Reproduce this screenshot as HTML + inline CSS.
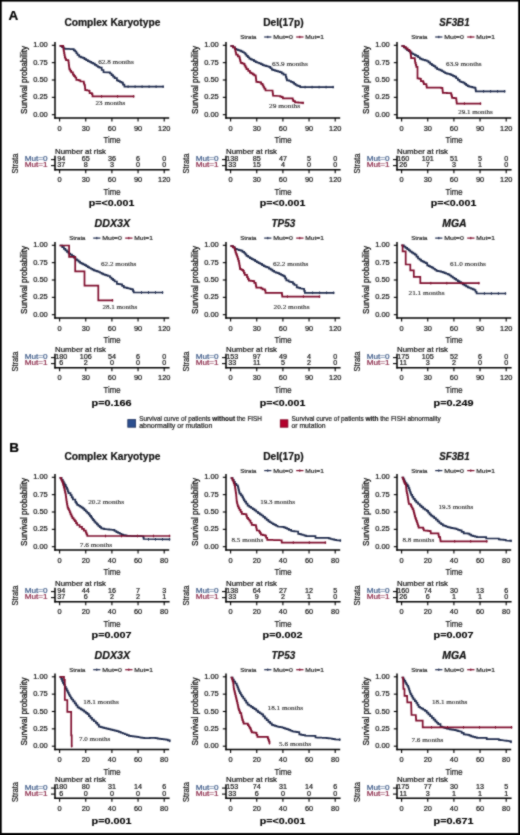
<!DOCTYPE html>
<html><head><meta charset="utf-8"><style>html,body{margin:0;padding:0;background:#fff;}svg{display:block;} #w{will-change:transform;width:520px;height:835px;}</style></head>
<body><div id="w"><svg width="520" height="835" viewBox="0 0 520 835"><defs><filter id="bl" x="0" y="0" width="1" height="1" color-interpolation-filters="sRGB"><feConvolveMatrix order="3" kernelMatrix="1 2 1 2 12 2 1 2 1" divisor="24" edgeMode="duplicate"/></filter></defs><g filter="url(#bl)">
<rect x="0" y="0" width="520" height="835" fill="#fff"/>
<text x="112.40" y="26.20" font-size="10" font-family="Liberation Sans, sans-serif" fill="#111" stroke="#111" stroke-width="0.2" text-anchor="middle" font-weight="bold" textLength="96" lengthAdjust="spacingAndGlyphs">Complex Karyotype</text>
<text transform="translate(26.80,80.00) rotate(-90)" font-size="9.6" font-family="Liberation Sans, sans-serif" fill="#111" stroke="#111" stroke-width="0.3" text-anchor="middle" textLength="68" lengthAdjust="spacingAndGlyphs">Survival probability</text>
<text x="47.80" y="47.30" font-size="7.6" font-family="Liberation Sans, sans-serif" fill="#111" stroke="#111" stroke-width="0.2" text-anchor="end" textLength="14.6" lengthAdjust="spacingAndGlyphs">1.00</text>
<line x1="51.80" y1="45.30" x2="55.20" y2="45.30" stroke="#000" stroke-width="1.1"/>
<text x="47.80" y="64.65" font-size="7.6" font-family="Liberation Sans, sans-serif" fill="#111" stroke="#111" stroke-width="0.2" text-anchor="end" textLength="14.6" lengthAdjust="spacingAndGlyphs">0.75</text>
<line x1="51.80" y1="62.65" x2="55.20" y2="62.65" stroke="#000" stroke-width="1.1"/>
<text x="47.80" y="82.00" font-size="7.6" font-family="Liberation Sans, sans-serif" fill="#111" stroke="#111" stroke-width="0.2" text-anchor="end" textLength="14.6" lengthAdjust="spacingAndGlyphs">0.50</text>
<line x1="51.80" y1="80.00" x2="55.20" y2="80.00" stroke="#000" stroke-width="1.1"/>
<text x="47.80" y="99.35" font-size="7.6" font-family="Liberation Sans, sans-serif" fill="#111" stroke="#111" stroke-width="0.2" text-anchor="end" textLength="14.6" lengthAdjust="spacingAndGlyphs">0.25</text>
<line x1="51.80" y1="97.35" x2="55.20" y2="97.35" stroke="#000" stroke-width="1.1"/>
<text x="47.80" y="116.70" font-size="7.6" font-family="Liberation Sans, sans-serif" fill="#111" stroke="#111" stroke-width="0.2" text-anchor="end" textLength="14.6" lengthAdjust="spacingAndGlyphs">0.00</text>
<line x1="51.80" y1="114.70" x2="55.20" y2="114.70" stroke="#000" stroke-width="1.1"/>
<line x1="55.00" y1="42.00" x2="55.00" y2="118.70" stroke="#000" stroke-width="1.5"/>
<line x1="54.30" y1="118.00" x2="169.20" y2="118.00" stroke="#000" stroke-width="1.5"/>
<line x1="59.60" y1="118.00" x2="59.60" y2="121.60" stroke="#000" stroke-width="1.1"/>
<text x="59.60" y="130.90" font-size="7.4" font-family="Liberation Sans, sans-serif" fill="#111" stroke="#111" stroke-width="0.2" text-anchor="middle">0</text>
<line x1="85.75" y1="118.00" x2="85.75" y2="121.60" stroke="#000" stroke-width="1.1"/>
<text x="85.75" y="130.90" font-size="7.4" font-family="Liberation Sans, sans-serif" fill="#111" stroke="#111" stroke-width="0.2" text-anchor="middle">30</text>
<line x1="111.90" y1="118.00" x2="111.90" y2="121.60" stroke="#000" stroke-width="1.1"/>
<text x="111.90" y="130.90" font-size="7.4" font-family="Liberation Sans, sans-serif" fill="#111" stroke="#111" stroke-width="0.2" text-anchor="middle">60</text>
<line x1="138.05" y1="118.00" x2="138.05" y2="121.60" stroke="#000" stroke-width="1.1"/>
<text x="138.05" y="130.90" font-size="7.4" font-family="Liberation Sans, sans-serif" fill="#111" stroke="#111" stroke-width="0.2" text-anchor="middle">90</text>
<line x1="164.20" y1="118.00" x2="164.20" y2="121.60" stroke="#000" stroke-width="1.1"/>
<text x="164.20" y="130.90" font-size="7.4" font-family="Liberation Sans, sans-serif" fill="#111" stroke="#111" stroke-width="0.2" text-anchor="middle">120</text>
<text x="112.00" y="143.10" font-size="9.9" font-family="Liberation Sans, sans-serif" fill="#111" stroke="#111" stroke-width="0.2" text-anchor="middle" textLength="17" lengthAdjust="spacingAndGlyphs">Time</text>
<polyline points="60.50,45.80 62.10,45.80 62.10,47.25 63.70,47.25 63.70,48.70 65.42,48.70 65.42,48.80 67.14,48.80 67.14,48.90 68.86,48.90 68.86,49.00 70.58,49.00 70.58,49.10 72.30,49.10 72.30,49.20 73.75,49.20 73.75,50.35 75.20,50.35 75.20,51.50 76.35,51.50 76.35,53.25 77.50,53.25 77.50,55.00 79.20,55.00 79.20,56.70 80.95,56.70 80.95,57.30 82.70,57.30 82.70,57.90 84.45,57.90 84.45,59.05 86.20,59.05 86.20,60.20 87.90,60.20 87.90,61.05 89.60,61.05 89.60,61.90 91.35,61.90 91.35,62.80 93.10,62.80 93.10,63.70 94.80,63.70 94.80,64.85 96.50,64.85 96.50,66.00 97.95,66.00 97.95,66.85 99.40,66.85 99.40,67.70 101.70,67.70 101.70,70.00 103.50,70.00 103.50,72.10 108.10,72.30 110.00,72.30 110.00,73.50 111.53,73.50 111.53,75.03 113.07,75.03 113.07,76.57 114.60,76.57 114.60,78.10 116.90,78.10 116.90,80.40 118.43,80.40 118.43,81.17 119.97,81.17 119.97,81.93 121.50,81.93 121.50,82.70 122.95,82.70 122.95,84.70 124.40,84.70 124.40,86.70 163.10,86.70" fill="none" stroke="#1f2b4d" stroke-width="1.7" stroke-linejoin="miter" stroke-linecap="square"/>
<line x1="163.10" y1="85.40" x2="163.10" y2="88.00" stroke="#1f2b4d" stroke-width="1.0"/>
<line x1="156.10" y1="85.40" x2="156.10" y2="88.00" stroke="#1f2b4d" stroke-width="1.0"/>
<line x1="149.10" y1="85.40" x2="149.10" y2="88.00" stroke="#1f2b4d" stroke-width="1.0"/>
<line x1="142.10" y1="85.40" x2="142.10" y2="88.00" stroke="#1f2b4d" stroke-width="1.0"/>
<line x1="135.10" y1="85.40" x2="135.10" y2="88.00" stroke="#1f2b4d" stroke-width="1.0"/>
<line x1="128.10" y1="85.40" x2="128.10" y2="88.00" stroke="#1f2b4d" stroke-width="1.0"/>
<polyline points="60.50,45.80 63.10,45.80 63.10,46.30 63.30,46.30 63.30,47.87 63.50,47.87 63.50,49.43 63.70,49.43 63.70,51.00 64.07,51.00 64.07,53.10 64.43,53.10 64.43,55.20 64.80,55.20 64.80,57.30 65.40,57.30 65.40,58.75 66.00,58.75 66.00,60.20 68.30,60.20 68.30,60.80 68.55,60.80 68.55,62.80 68.80,62.80 68.80,64.80 69.00,64.80 69.00,66.33 69.20,66.33 69.20,67.87 69.40,67.87 69.40,69.40 70.30,69.40 70.30,70.85 71.20,70.85 71.20,72.30 72.90,72.30 72.90,74.60 74.05,74.60 74.05,76.05 75.20,76.05 75.20,77.50 76.30,77.50 76.30,79.80 78.70,79.80 78.70,80.40 80.40,80.40 80.40,81.50 83.30,81.50 83.80,81.50 83.80,83.30 84.30,83.30 84.30,84.75 84.80,84.75 84.80,86.20 85.00,86.20 85.00,88.20 85.20,88.20 85.20,90.20 87.10,90.20 87.10,90.50 89.00,90.50 89.00,90.80 89.60,90.80 89.60,93.10 91.90,93.10 91.90,94.20 92.50,94.20 92.50,96.40 133.60,96.40" fill="none" stroke="#7e0d2c" stroke-width="1.7" stroke-linejoin="miter" stroke-linecap="square"/>
<line x1="133.60" y1="95.10" x2="133.60" y2="97.70" stroke="#7e0d2c" stroke-width="1.0"/>
<line x1="117.60" y1="95.10" x2="117.60" y2="97.70" stroke="#7e0d2c" stroke-width="1.0"/>
<line x1="101.60" y1="95.10" x2="101.60" y2="97.70" stroke="#7e0d2c" stroke-width="1.0"/>
<text x="98.20" y="63.50" font-size="6.8" font-family="Liberation Serif, serif" fill="#2a2a2a" stroke="#2a2a2a" stroke-width="0.12" textLength="35.5" lengthAdjust="spacingAndGlyphs">62.8 months</text>
<text x="95.60" y="105.40" font-size="6.8" font-family="Liberation Serif, serif" fill="#2a2a2a" stroke="#2a2a2a" stroke-width="0.12" textLength="29.6" lengthAdjust="spacingAndGlyphs">23 months</text>
<text x="55.00" y="153.70" font-size="7.2" font-family="Liberation Sans, sans-serif" fill="#111" stroke="#111" stroke-width="0.2" textLength="51" lengthAdjust="spacingAndGlyphs">Number at risk</text>
<text transform="translate(18.10,163.60) rotate(-90)" font-size="9.9" font-family="Liberation Sans, sans-serif" fill="#111" stroke="#111" stroke-width="0.2" text-anchor="middle" textLength="20" lengthAdjust="spacingAndGlyphs">Strata</text>
<text x="47.60" y="161.00" font-size="6.8" font-family="Liberation Sans, sans-serif" fill="#3d5a88" stroke="#3d5a88" stroke-width="0.2" text-anchor="end" textLength="22.8" lengthAdjust="spacingAndGlyphs">Mut=0</text>
<text x="47.60" y="167.40" font-size="6.8" font-family="Liberation Sans, sans-serif" fill="#8a2848" stroke="#8a2848" stroke-width="0.2" text-anchor="end" textLength="22.8" lengthAdjust="spacingAndGlyphs">Mut=1</text>
<line x1="51.00" y1="159.60" x2="55.00" y2="159.60" stroke="#000" stroke-width="1.1"/>
<line x1="51.00" y1="165.60" x2="55.00" y2="165.60" stroke="#000" stroke-width="1.1"/>
<line x1="55.00" y1="155.80" x2="55.00" y2="170.40" stroke="#000" stroke-width="1.5"/>
<line x1="54.30" y1="169.70" x2="169.60" y2="169.70" stroke="#000" stroke-width="1.5"/>
<line x1="59.60" y1="169.70" x2="59.60" y2="173.20" stroke="#000" stroke-width="1.1"/>
<text x="59.60" y="182.30" font-size="7.4" font-family="Liberation Sans, sans-serif" fill="#111" stroke="#111" stroke-width="0.2" text-anchor="middle">0</text>
<text x="61.20" y="160.70" font-size="7.2" font-family="Liberation Sans, sans-serif" fill="#111" stroke="#111" stroke-width="0.2" text-anchor="middle">94</text>
<text x="61.20" y="167.10" font-size="7.2" font-family="Liberation Sans, sans-serif" fill="#111" stroke="#111" stroke-width="0.2" text-anchor="middle">37</text>
<line x1="85.75" y1="169.70" x2="85.75" y2="173.20" stroke="#000" stroke-width="1.1"/>
<text x="85.75" y="182.30" font-size="7.4" font-family="Liberation Sans, sans-serif" fill="#111" stroke="#111" stroke-width="0.2" text-anchor="middle">30</text>
<text x="85.75" y="160.70" font-size="7.2" font-family="Liberation Sans, sans-serif" fill="#111" stroke="#111" stroke-width="0.2" text-anchor="middle">65</text>
<text x="85.75" y="167.10" font-size="7.2" font-family="Liberation Sans, sans-serif" fill="#111" stroke="#111" stroke-width="0.2" text-anchor="middle">8</text>
<line x1="111.90" y1="169.70" x2="111.90" y2="173.20" stroke="#000" stroke-width="1.1"/>
<text x="111.90" y="182.30" font-size="7.4" font-family="Liberation Sans, sans-serif" fill="#111" stroke="#111" stroke-width="0.2" text-anchor="middle">60</text>
<text x="111.90" y="160.70" font-size="7.2" font-family="Liberation Sans, sans-serif" fill="#111" stroke="#111" stroke-width="0.2" text-anchor="middle">36</text>
<text x="111.90" y="167.10" font-size="7.2" font-family="Liberation Sans, sans-serif" fill="#111" stroke="#111" stroke-width="0.2" text-anchor="middle">3</text>
<line x1="138.05" y1="169.70" x2="138.05" y2="173.20" stroke="#000" stroke-width="1.1"/>
<text x="138.05" y="182.30" font-size="7.4" font-family="Liberation Sans, sans-serif" fill="#111" stroke="#111" stroke-width="0.2" text-anchor="middle">90</text>
<text x="138.05" y="160.70" font-size="7.2" font-family="Liberation Sans, sans-serif" fill="#111" stroke="#111" stroke-width="0.2" text-anchor="middle">6</text>
<text x="138.05" y="167.10" font-size="7.2" font-family="Liberation Sans, sans-serif" fill="#111" stroke="#111" stroke-width="0.2" text-anchor="middle">0</text>
<line x1="164.20" y1="169.70" x2="164.20" y2="173.20" stroke="#000" stroke-width="1.1"/>
<text x="164.20" y="182.30" font-size="7.4" font-family="Liberation Sans, sans-serif" fill="#111" stroke="#111" stroke-width="0.2" text-anchor="middle">120</text>
<text x="164.20" y="160.70" font-size="7.2" font-family="Liberation Sans, sans-serif" fill="#111" stroke="#111" stroke-width="0.2" text-anchor="middle">0</text>
<text x="164.20" y="167.10" font-size="7.2" font-family="Liberation Sans, sans-serif" fill="#111" stroke="#111" stroke-width="0.2" text-anchor="middle">0</text>
<text x="112.00" y="195.10" font-size="9.9" font-family="Liberation Sans, sans-serif" fill="#111" stroke="#111" stroke-width="0.2" text-anchor="middle" textLength="17" lengthAdjust="spacingAndGlyphs">Time</text>
<text x="111.60" y="205.90" font-size="9.0" font-family="Liberation Sans, sans-serif" fill="#000" stroke="#000" stroke-width="0.12" text-anchor="middle" font-weight="bold" textLength="45.5" lengthAdjust="spacingAndGlyphs">p=&lt;0.001</text>
<text x="283.40" y="26.20" font-size="10" font-family="Liberation Sans, sans-serif" fill="#111" stroke="#111" stroke-width="0.2" text-anchor="middle" font-weight="bold" textLength="40.4" lengthAdjust="spacingAndGlyphs">Del(17p)</text>
<text x="240.30" y="39.10" font-size="5.9" font-family="Liberation Sans, sans-serif" fill="#222" stroke="#222" stroke-width="0.18" textLength="16.2" lengthAdjust="spacingAndGlyphs">Strata</text>
<line x1="264.20" y1="37.00" x2="271.40" y2="37.00" stroke="#1f2b4d" stroke-width="1.2"/>
<line x1="267.80" y1="35.80" x2="267.80" y2="38.20" stroke="#1f2b4d" stroke-width="1.0"/>
<text x="273.20" y="39.10" font-size="5.9" font-family="Liberation Sans, sans-serif" fill="#222" stroke="#222" stroke-width="0.18" textLength="19.6" lengthAdjust="spacingAndGlyphs">Mut=0</text>
<line x1="296.20" y1="37.00" x2="303.50" y2="37.00" stroke="#7e0d2c" stroke-width="1.2"/>
<line x1="299.80" y1="35.80" x2="299.80" y2="38.20" stroke="#7e0d2c" stroke-width="1.0"/>
<text x="305.30" y="39.10" font-size="5.9" font-family="Liberation Sans, sans-serif" fill="#222" stroke="#222" stroke-width="0.18" textLength="18.6" lengthAdjust="spacingAndGlyphs">Mut=1</text>
<text transform="translate(197.80,80.00) rotate(-90)" font-size="9.6" font-family="Liberation Sans, sans-serif" fill="#111" stroke="#111" stroke-width="0.3" text-anchor="middle" textLength="68" lengthAdjust="spacingAndGlyphs">Survival probability</text>
<text x="218.80" y="47.30" font-size="7.6" font-family="Liberation Sans, sans-serif" fill="#111" stroke="#111" stroke-width="0.2" text-anchor="end" textLength="14.6" lengthAdjust="spacingAndGlyphs">1.00</text>
<line x1="222.80" y1="45.30" x2="226.20" y2="45.30" stroke="#000" stroke-width="1.1"/>
<text x="218.80" y="64.65" font-size="7.6" font-family="Liberation Sans, sans-serif" fill="#111" stroke="#111" stroke-width="0.2" text-anchor="end" textLength="14.6" lengthAdjust="spacingAndGlyphs">0.75</text>
<line x1="222.80" y1="62.65" x2="226.20" y2="62.65" stroke="#000" stroke-width="1.1"/>
<text x="218.80" y="82.00" font-size="7.6" font-family="Liberation Sans, sans-serif" fill="#111" stroke="#111" stroke-width="0.2" text-anchor="end" textLength="14.6" lengthAdjust="spacingAndGlyphs">0.50</text>
<line x1="222.80" y1="80.00" x2="226.20" y2="80.00" stroke="#000" stroke-width="1.1"/>
<text x="218.80" y="99.35" font-size="7.6" font-family="Liberation Sans, sans-serif" fill="#111" stroke="#111" stroke-width="0.2" text-anchor="end" textLength="14.6" lengthAdjust="spacingAndGlyphs">0.25</text>
<line x1="222.80" y1="97.35" x2="226.20" y2="97.35" stroke="#000" stroke-width="1.1"/>
<text x="218.80" y="116.70" font-size="7.6" font-family="Liberation Sans, sans-serif" fill="#111" stroke="#111" stroke-width="0.2" text-anchor="end" textLength="14.6" lengthAdjust="spacingAndGlyphs">0.00</text>
<line x1="222.80" y1="114.70" x2="226.20" y2="114.70" stroke="#000" stroke-width="1.1"/>
<line x1="226.00" y1="42.00" x2="226.00" y2="118.70" stroke="#000" stroke-width="1.5"/>
<line x1="225.30" y1="118.00" x2="340.20" y2="118.00" stroke="#000" stroke-width="1.5"/>
<line x1="230.60" y1="118.00" x2="230.60" y2="121.60" stroke="#000" stroke-width="1.1"/>
<text x="230.60" y="130.90" font-size="7.4" font-family="Liberation Sans, sans-serif" fill="#111" stroke="#111" stroke-width="0.2" text-anchor="middle">0</text>
<line x1="256.75" y1="118.00" x2="256.75" y2="121.60" stroke="#000" stroke-width="1.1"/>
<text x="256.75" y="130.90" font-size="7.4" font-family="Liberation Sans, sans-serif" fill="#111" stroke="#111" stroke-width="0.2" text-anchor="middle">30</text>
<line x1="282.90" y1="118.00" x2="282.90" y2="121.60" stroke="#000" stroke-width="1.1"/>
<text x="282.90" y="130.90" font-size="7.4" font-family="Liberation Sans, sans-serif" fill="#111" stroke="#111" stroke-width="0.2" text-anchor="middle">60</text>
<line x1="309.05" y1="118.00" x2="309.05" y2="121.60" stroke="#000" stroke-width="1.1"/>
<text x="309.05" y="130.90" font-size="7.4" font-family="Liberation Sans, sans-serif" fill="#111" stroke="#111" stroke-width="0.2" text-anchor="middle">90</text>
<line x1="335.20" y1="118.00" x2="335.20" y2="121.60" stroke="#000" stroke-width="1.1"/>
<text x="335.20" y="130.90" font-size="7.4" font-family="Liberation Sans, sans-serif" fill="#111" stroke="#111" stroke-width="0.2" text-anchor="middle">120</text>
<text x="283.00" y="143.10" font-size="9.9" font-family="Liberation Sans, sans-serif" fill="#111" stroke="#111" stroke-width="0.2" text-anchor="middle" textLength="17" lengthAdjust="spacingAndGlyphs">Time</text>
<polyline points="231.20,46.00 233.05,46.00 233.05,47.45 234.90,47.45 234.90,48.90 236.43,48.90 236.43,49.50 237.97,49.50 237.97,50.10 239.50,50.10 239.50,50.70 241.07,50.70 241.07,51.47 242.63,51.47 242.63,52.23 244.20,52.23 244.20,53.00 245.35,53.00 245.35,54.40 246.50,54.40 246.50,55.80 247.90,55.80 247.90,57.25 249.30,57.25 249.30,58.70 250.75,58.70 250.75,59.30 252.20,59.30 252.20,59.90 253.95,59.90 253.95,61.05 255.70,61.05 255.70,62.20 257.45,62.20 257.45,62.75 259.20,62.75 259.20,63.30 260.90,63.30 260.90,64.20 262.60,64.20 262.60,65.10 264.35,65.10 264.35,65.65 266.10,65.65 266.10,66.20 267.55,66.20 267.55,66.50 269.00,66.50 269.00,66.80 270.40,66.80 270.40,68.25 271.80,68.25 271.80,69.70 273.37,69.70 273.37,70.17 274.93,70.17 274.93,70.63 276.50,70.63 276.50,71.10 278.20,71.10 278.20,71.65 279.90,71.65 279.90,72.20 281.70,72.20 281.70,73.40 283.50,73.40 283.50,74.60 285.80,74.60 285.80,76.90 286.35,76.90 286.35,78.65 286.90,78.65 286.90,80.40 289.20,80.40 289.20,81.00 290.95,81.00 290.95,81.85 292.70,81.85 292.70,82.70 294.15,82.70 294.15,83.85 295.60,83.85 295.60,85.00 297.05,85.00 297.05,85.60 298.50,85.60 298.50,86.20 300.20,86.20 300.20,87.10 333.10,87.10" fill="none" stroke="#1f2b4d" stroke-width="1.7" stroke-linejoin="miter" stroke-linecap="square"/>
<line x1="333.10" y1="85.80" x2="333.10" y2="88.40" stroke="#1f2b4d" stroke-width="1.0"/>
<line x1="326.10" y1="85.80" x2="326.10" y2="88.40" stroke="#1f2b4d" stroke-width="1.0"/>
<line x1="319.10" y1="85.80" x2="319.10" y2="88.40" stroke="#1f2b4d" stroke-width="1.0"/>
<line x1="312.10" y1="85.80" x2="312.10" y2="88.40" stroke="#1f2b4d" stroke-width="1.0"/>
<line x1="305.10" y1="85.80" x2="305.10" y2="88.40" stroke="#1f2b4d" stroke-width="1.0"/>
<polyline points="231.20,46.00 233.05,46.00 233.05,47.45 234.90,47.45 234.90,48.90 235.30,48.90 235.30,50.83 235.70,50.83 235.70,52.77 236.10,52.77 236.10,54.70 237.80,54.70 237.80,56.45 239.50,56.45 239.50,58.20 239.90,58.20 239.90,59.73 240.30,59.73 240.30,61.27 240.70,61.27 240.70,62.80 242.15,62.80 242.15,63.35 243.60,63.35 243.60,63.90 244.57,63.90 244.57,65.63 245.53,65.63 245.53,67.37 246.50,67.37 246.50,69.10 248.20,69.10 248.20,70.85 249.90,70.85 249.90,72.60 251.35,72.60 251.35,73.45 252.80,73.45 252.80,74.30 254.25,74.30 254.25,75.45 255.70,75.45 255.70,76.60 255.90,76.60 255.90,78.33 256.10,78.33 256.10,80.07 256.30,80.07 256.30,81.80 258.00,81.80 258.00,82.10 259.70,82.10 259.70,82.40 261.15,82.40 261.15,83.85 262.60,83.85 262.60,85.30 263.45,85.30 263.45,87.00 264.30,87.00 264.30,88.70 265.50,88.70 265.50,90.50 272.40,90.50 272.60,90.50 272.60,92.23 272.80,92.23 272.80,93.97 273.00,93.97 273.00,95.70 278.80,96.00 280.25,96.00 280.25,96.55 281.70,96.55 281.70,97.10 282.90,97.10 282.90,98.30 292.10,98.30 292.70,98.30 292.70,99.75 293.30,99.75 293.30,101.20 295.00,101.20 295.00,102.30 296.62,102.30 296.62,102.42 298.24,102.42 298.24,102.54 299.86,102.54 299.86,102.66 301.48,102.66 301.48,102.78 303.10,102.78 303.10,102.90" fill="none" stroke="#7e0d2c" stroke-width="1.7" stroke-linejoin="miter" stroke-linecap="square"/>
<line x1="303.10" y1="101.60" x2="303.10" y2="104.20" stroke="#7e0d2c" stroke-width="1.0"/>
<text x="272.00" y="65.80" font-size="6.8" font-family="Liberation Serif, serif" fill="#2a2a2a" stroke="#2a2a2a" stroke-width="0.12" textLength="35.8" lengthAdjust="spacingAndGlyphs">63.9 months</text>
<text x="269.10" y="107.50" font-size="6.8" font-family="Liberation Serif, serif" fill="#2a2a2a" stroke="#2a2a2a" stroke-width="0.12" textLength="31" lengthAdjust="spacingAndGlyphs">29 months</text>
<text x="226.00" y="153.70" font-size="7.2" font-family="Liberation Sans, sans-serif" fill="#111" stroke="#111" stroke-width="0.2" textLength="51" lengthAdjust="spacingAndGlyphs">Number at risk</text>
<text transform="translate(189.10,163.60) rotate(-90)" font-size="9.9" font-family="Liberation Sans, sans-serif" fill="#111" stroke="#111" stroke-width="0.2" text-anchor="middle" textLength="20" lengthAdjust="spacingAndGlyphs">Strata</text>
<text x="218.60" y="161.00" font-size="6.8" font-family="Liberation Sans, sans-serif" fill="#3d5a88" stroke="#3d5a88" stroke-width="0.2" text-anchor="end" textLength="22.8" lengthAdjust="spacingAndGlyphs">Mut=0</text>
<text x="218.60" y="167.40" font-size="6.8" font-family="Liberation Sans, sans-serif" fill="#8a2848" stroke="#8a2848" stroke-width="0.2" text-anchor="end" textLength="22.8" lengthAdjust="spacingAndGlyphs">Mut=1</text>
<line x1="222.00" y1="159.60" x2="226.00" y2="159.60" stroke="#000" stroke-width="1.1"/>
<line x1="222.00" y1="165.60" x2="226.00" y2="165.60" stroke="#000" stroke-width="1.1"/>
<line x1="226.00" y1="155.80" x2="226.00" y2="170.40" stroke="#000" stroke-width="1.5"/>
<line x1="225.30" y1="169.70" x2="340.60" y2="169.70" stroke="#000" stroke-width="1.5"/>
<line x1="230.60" y1="169.70" x2="230.60" y2="173.20" stroke="#000" stroke-width="1.1"/>
<text x="230.60" y="182.30" font-size="7.4" font-family="Liberation Sans, sans-serif" fill="#111" stroke="#111" stroke-width="0.2" text-anchor="middle">0</text>
<text x="232.20" y="160.70" font-size="7.2" font-family="Liberation Sans, sans-serif" fill="#111" stroke="#111" stroke-width="0.2" text-anchor="middle">138</text>
<text x="232.20" y="167.10" font-size="7.2" font-family="Liberation Sans, sans-serif" fill="#111" stroke="#111" stroke-width="0.2" text-anchor="middle">33</text>
<line x1="256.75" y1="169.70" x2="256.75" y2="173.20" stroke="#000" stroke-width="1.1"/>
<text x="256.75" y="182.30" font-size="7.4" font-family="Liberation Sans, sans-serif" fill="#111" stroke="#111" stroke-width="0.2" text-anchor="middle">30</text>
<text x="256.75" y="160.70" font-size="7.2" font-family="Liberation Sans, sans-serif" fill="#111" stroke="#111" stroke-width="0.2" text-anchor="middle">85</text>
<text x="256.75" y="167.10" font-size="7.2" font-family="Liberation Sans, sans-serif" fill="#111" stroke="#111" stroke-width="0.2" text-anchor="middle">15</text>
<line x1="282.90" y1="169.70" x2="282.90" y2="173.20" stroke="#000" stroke-width="1.1"/>
<text x="282.90" y="182.30" font-size="7.4" font-family="Liberation Sans, sans-serif" fill="#111" stroke="#111" stroke-width="0.2" text-anchor="middle">60</text>
<text x="282.90" y="160.70" font-size="7.2" font-family="Liberation Sans, sans-serif" fill="#111" stroke="#111" stroke-width="0.2" text-anchor="middle">47</text>
<text x="282.90" y="167.10" font-size="7.2" font-family="Liberation Sans, sans-serif" fill="#111" stroke="#111" stroke-width="0.2" text-anchor="middle">4</text>
<line x1="309.05" y1="169.70" x2="309.05" y2="173.20" stroke="#000" stroke-width="1.1"/>
<text x="309.05" y="182.30" font-size="7.4" font-family="Liberation Sans, sans-serif" fill="#111" stroke="#111" stroke-width="0.2" text-anchor="middle">90</text>
<text x="309.05" y="160.70" font-size="7.2" font-family="Liberation Sans, sans-serif" fill="#111" stroke="#111" stroke-width="0.2" text-anchor="middle">5</text>
<text x="309.05" y="167.10" font-size="7.2" font-family="Liberation Sans, sans-serif" fill="#111" stroke="#111" stroke-width="0.2" text-anchor="middle">0</text>
<line x1="335.20" y1="169.70" x2="335.20" y2="173.20" stroke="#000" stroke-width="1.1"/>
<text x="335.20" y="182.30" font-size="7.4" font-family="Liberation Sans, sans-serif" fill="#111" stroke="#111" stroke-width="0.2" text-anchor="middle">120</text>
<text x="335.20" y="160.70" font-size="7.2" font-family="Liberation Sans, sans-serif" fill="#111" stroke="#111" stroke-width="0.2" text-anchor="middle">0</text>
<text x="335.20" y="167.10" font-size="7.2" font-family="Liberation Sans, sans-serif" fill="#111" stroke="#111" stroke-width="0.2" text-anchor="middle">0</text>
<text x="283.00" y="195.10" font-size="9.9" font-family="Liberation Sans, sans-serif" fill="#111" stroke="#111" stroke-width="0.2" text-anchor="middle" textLength="17" lengthAdjust="spacingAndGlyphs">Time</text>
<text x="282.60" y="205.90" font-size="9.0" font-family="Liberation Sans, sans-serif" fill="#000" stroke="#000" stroke-width="0.12" text-anchor="middle" font-weight="bold" textLength="45.5" lengthAdjust="spacingAndGlyphs">p=&lt;0.001</text>
<text x="454.40" y="26.20" font-size="10" font-family="Liberation Sans, sans-serif" fill="#111" stroke="#111" stroke-width="0.2" text-anchor="middle" font-weight="bold" font-style="italic" textLength="30.3" lengthAdjust="spacingAndGlyphs">SF3B1</text>
<text x="411.30" y="39.10" font-size="5.9" font-family="Liberation Sans, sans-serif" fill="#222" stroke="#222" stroke-width="0.18" textLength="16.2" lengthAdjust="spacingAndGlyphs">Strata</text>
<line x1="435.20" y1="37.00" x2="442.40" y2="37.00" stroke="#1f2b4d" stroke-width="1.2"/>
<line x1="438.80" y1="35.80" x2="438.80" y2="38.20" stroke="#1f2b4d" stroke-width="1.0"/>
<text x="444.20" y="39.10" font-size="5.9" font-family="Liberation Sans, sans-serif" fill="#222" stroke="#222" stroke-width="0.18" textLength="19.6" lengthAdjust="spacingAndGlyphs">Mut=0</text>
<line x1="467.20" y1="37.00" x2="474.50" y2="37.00" stroke="#7e0d2c" stroke-width="1.2"/>
<line x1="470.80" y1="35.80" x2="470.80" y2="38.20" stroke="#7e0d2c" stroke-width="1.0"/>
<text x="476.30" y="39.10" font-size="5.9" font-family="Liberation Sans, sans-serif" fill="#222" stroke="#222" stroke-width="0.18" textLength="18.6" lengthAdjust="spacingAndGlyphs">Mut=1</text>
<text transform="translate(368.80,80.00) rotate(-90)" font-size="9.6" font-family="Liberation Sans, sans-serif" fill="#111" stroke="#111" stroke-width="0.3" text-anchor="middle" textLength="68" lengthAdjust="spacingAndGlyphs">Survival probability</text>
<text x="389.80" y="47.30" font-size="7.6" font-family="Liberation Sans, sans-serif" fill="#111" stroke="#111" stroke-width="0.2" text-anchor="end" textLength="14.6" lengthAdjust="spacingAndGlyphs">1.00</text>
<line x1="393.80" y1="45.30" x2="397.20" y2="45.30" stroke="#000" stroke-width="1.1"/>
<text x="389.80" y="64.65" font-size="7.6" font-family="Liberation Sans, sans-serif" fill="#111" stroke="#111" stroke-width="0.2" text-anchor="end" textLength="14.6" lengthAdjust="spacingAndGlyphs">0.75</text>
<line x1="393.80" y1="62.65" x2="397.20" y2="62.65" stroke="#000" stroke-width="1.1"/>
<text x="389.80" y="82.00" font-size="7.6" font-family="Liberation Sans, sans-serif" fill="#111" stroke="#111" stroke-width="0.2" text-anchor="end" textLength="14.6" lengthAdjust="spacingAndGlyphs">0.50</text>
<line x1="393.80" y1="80.00" x2="397.20" y2="80.00" stroke="#000" stroke-width="1.1"/>
<text x="389.80" y="99.35" font-size="7.6" font-family="Liberation Sans, sans-serif" fill="#111" stroke="#111" stroke-width="0.2" text-anchor="end" textLength="14.6" lengthAdjust="spacingAndGlyphs">0.25</text>
<line x1="393.80" y1="97.35" x2="397.20" y2="97.35" stroke="#000" stroke-width="1.1"/>
<text x="389.80" y="116.70" font-size="7.6" font-family="Liberation Sans, sans-serif" fill="#111" stroke="#111" stroke-width="0.2" text-anchor="end" textLength="14.6" lengthAdjust="spacingAndGlyphs">0.00</text>
<line x1="393.80" y1="114.70" x2="397.20" y2="114.70" stroke="#000" stroke-width="1.1"/>
<line x1="397.00" y1="42.00" x2="397.00" y2="118.70" stroke="#000" stroke-width="1.5"/>
<line x1="396.30" y1="118.00" x2="511.20" y2="118.00" stroke="#000" stroke-width="1.5"/>
<line x1="401.60" y1="118.00" x2="401.60" y2="121.60" stroke="#000" stroke-width="1.1"/>
<text x="401.60" y="130.90" font-size="7.4" font-family="Liberation Sans, sans-serif" fill="#111" stroke="#111" stroke-width="0.2" text-anchor="middle">0</text>
<line x1="427.75" y1="118.00" x2="427.75" y2="121.60" stroke="#000" stroke-width="1.1"/>
<text x="427.75" y="130.90" font-size="7.4" font-family="Liberation Sans, sans-serif" fill="#111" stroke="#111" stroke-width="0.2" text-anchor="middle">30</text>
<line x1="453.90" y1="118.00" x2="453.90" y2="121.60" stroke="#000" stroke-width="1.1"/>
<text x="453.90" y="130.90" font-size="7.4" font-family="Liberation Sans, sans-serif" fill="#111" stroke="#111" stroke-width="0.2" text-anchor="middle">60</text>
<line x1="480.05" y1="118.00" x2="480.05" y2="121.60" stroke="#000" stroke-width="1.1"/>
<text x="480.05" y="130.90" font-size="7.4" font-family="Liberation Sans, sans-serif" fill="#111" stroke="#111" stroke-width="0.2" text-anchor="middle">90</text>
<line x1="506.20" y1="118.00" x2="506.20" y2="121.60" stroke="#000" stroke-width="1.1"/>
<text x="506.20" y="130.90" font-size="7.4" font-family="Liberation Sans, sans-serif" fill="#111" stroke="#111" stroke-width="0.2" text-anchor="middle">120</text>
<text x="454.00" y="143.10" font-size="9.9" font-family="Liberation Sans, sans-serif" fill="#111" stroke="#111" stroke-width="0.2" text-anchor="middle" textLength="17" lengthAdjust="spacingAndGlyphs">Time</text>
<polyline points="402.20,46.00 403.83,46.00 403.83,47.37 405.47,47.37 405.47,48.73 407.10,48.73 407.10,50.10 408.63,50.10 408.63,51.23 410.17,51.23 410.17,52.37 411.70,52.37 411.70,53.50 413.23,53.50 413.23,54.27 414.77,54.27 414.77,55.03 416.30,55.03 416.30,55.80 418.05,55.80 418.05,57.25 419.80,57.25 419.80,58.70 421.50,58.70 421.50,59.30 423.20,59.30 423.20,59.90 424.95,59.90 424.95,60.45 426.70,60.45 426.70,61.00 428.45,61.00 428.45,62.45 430.20,62.45 430.20,63.90 431.90,63.90 431.90,65.05 433.60,65.05 433.60,66.20 435.35,66.20 435.35,67.65 437.10,67.65 437.10,69.10 438.80,69.10 438.80,69.70 440.50,69.70 440.50,70.30 442.07,70.30 442.07,71.27 443.63,71.27 443.63,72.23 445.20,72.23 445.20,73.20 446.73,73.20 446.73,73.57 448.27,73.57 448.27,73.93 449.80,73.93 449.80,74.30 451.33,74.30 451.33,75.07 452.87,75.07 452.87,75.83 454.40,75.83 454.40,76.60 456.13,76.60 456.13,78.23 457.87,78.23 457.87,79.87 459.60,79.87 459.60,81.50 461.35,81.50 461.35,82.10 463.10,82.10 463.10,82.70 464.63,82.70 464.63,83.87 466.17,83.87 466.17,85.03 467.70,85.03 467.70,86.20 469.23,86.20 469.23,86.57 470.77,86.57 470.77,86.93 472.30,86.93 472.30,87.30 473.75,87.30 473.75,87.60 475.20,87.60 475.20,87.90 475.50,87.90 475.50,89.60 475.80,89.60 475.80,91.30 504.60,91.30" fill="none" stroke="#1f2b4d" stroke-width="1.7" stroke-linejoin="miter" stroke-linecap="square"/>
<line x1="504.60" y1="90.00" x2="504.60" y2="92.60" stroke="#1f2b4d" stroke-width="1.0"/>
<line x1="497.60" y1="90.00" x2="497.60" y2="92.60" stroke="#1f2b4d" stroke-width="1.0"/>
<line x1="490.60" y1="90.00" x2="490.60" y2="92.60" stroke="#1f2b4d" stroke-width="1.0"/>
<line x1="483.60" y1="90.00" x2="483.60" y2="92.60" stroke="#1f2b4d" stroke-width="1.0"/>
<polyline points="402.20,46.00 404.05,46.00 404.05,47.15 405.90,47.15 405.90,48.30 407.65,48.30 407.65,49.75 409.40,49.75 409.40,51.20 410.50,51.20 410.50,53.00 410.70,53.00 410.70,54.73 410.90,54.73 410.90,56.47 411.10,56.47 411.10,58.20 414.60,58.20 414.80,58.20 414.80,59.73 415.00,59.73 415.00,61.27 415.20,61.27 415.20,62.80 415.75,62.80 415.75,64.80 416.30,64.80 416.30,66.80 417.50,66.80 417.50,78.30 418.90,78.30 418.90,78.60 420.30,78.60 420.30,78.90 420.90,78.90 420.90,81.20 423.20,81.20 423.20,82.40 423.80,82.40 423.80,84.10 426.10,84.10 426.40,84.10 426.40,85.85 426.70,85.85 426.70,87.60 439.40,87.60 440.85,87.60 440.85,87.90 442.30,87.90 442.30,88.20 442.47,88.20 442.47,89.73 442.63,89.73 442.63,91.27 442.80,91.27 442.80,92.80 444.82,92.80 444.82,92.92 446.85,92.92 446.85,93.05 448.88,93.05 448.88,93.17 450.90,93.17 450.90,93.30 451.30,93.30 451.30,94.83 451.70,94.83 451.70,96.37 452.10,96.37 452.10,97.90 454.10,97.90 454.10,98.10 456.10,98.10 456.10,98.30 456.30,98.30 456.30,100.07 456.50,100.07 456.50,101.83 456.70,101.83 456.70,103.60 480.40,103.60" fill="none" stroke="#7e0d2c" stroke-width="1.7" stroke-linejoin="miter" stroke-linecap="square"/>
<line x1="480.40" y1="102.30" x2="480.40" y2="104.90" stroke="#7e0d2c" stroke-width="1.0"/>
<line x1="464.40" y1="102.30" x2="464.40" y2="104.90" stroke="#7e0d2c" stroke-width="1.0"/>
<text x="446.10" y="65.80" font-size="6.8" font-family="Liberation Serif, serif" fill="#2a2a2a" stroke="#2a2a2a" stroke-width="0.12" textLength="35.4" lengthAdjust="spacingAndGlyphs">63.9 months</text>
<text x="458.20" y="113.50" font-size="6.8" font-family="Liberation Serif, serif" fill="#2a2a2a" stroke="#2a2a2a" stroke-width="0.12" textLength="34.6" lengthAdjust="spacingAndGlyphs">29.1 months</text>
<text x="397.00" y="153.70" font-size="7.2" font-family="Liberation Sans, sans-serif" fill="#111" stroke="#111" stroke-width="0.2" textLength="51" lengthAdjust="spacingAndGlyphs">Number at risk</text>
<text transform="translate(360.10,163.60) rotate(-90)" font-size="9.9" font-family="Liberation Sans, sans-serif" fill="#111" stroke="#111" stroke-width="0.2" text-anchor="middle" textLength="20" lengthAdjust="spacingAndGlyphs">Strata</text>
<text x="389.60" y="161.00" font-size="6.8" font-family="Liberation Sans, sans-serif" fill="#3d5a88" stroke="#3d5a88" stroke-width="0.2" text-anchor="end" textLength="22.8" lengthAdjust="spacingAndGlyphs">Mut=0</text>
<text x="389.60" y="167.40" font-size="6.8" font-family="Liberation Sans, sans-serif" fill="#8a2848" stroke="#8a2848" stroke-width="0.2" text-anchor="end" textLength="22.8" lengthAdjust="spacingAndGlyphs">Mut=1</text>
<line x1="393.00" y1="159.60" x2="397.00" y2="159.60" stroke="#000" stroke-width="1.1"/>
<line x1="393.00" y1="165.60" x2="397.00" y2="165.60" stroke="#000" stroke-width="1.1"/>
<line x1="397.00" y1="155.80" x2="397.00" y2="170.40" stroke="#000" stroke-width="1.5"/>
<line x1="396.30" y1="169.70" x2="511.60" y2="169.70" stroke="#000" stroke-width="1.5"/>
<line x1="401.60" y1="169.70" x2="401.60" y2="173.20" stroke="#000" stroke-width="1.1"/>
<text x="401.60" y="182.30" font-size="7.4" font-family="Liberation Sans, sans-serif" fill="#111" stroke="#111" stroke-width="0.2" text-anchor="middle">0</text>
<text x="403.20" y="160.70" font-size="7.2" font-family="Liberation Sans, sans-serif" fill="#111" stroke="#111" stroke-width="0.2" text-anchor="middle">160</text>
<text x="403.20" y="167.10" font-size="7.2" font-family="Liberation Sans, sans-serif" fill="#111" stroke="#111" stroke-width="0.2" text-anchor="middle">26</text>
<line x1="427.75" y1="169.70" x2="427.75" y2="173.20" stroke="#000" stroke-width="1.1"/>
<text x="427.75" y="182.30" font-size="7.4" font-family="Liberation Sans, sans-serif" fill="#111" stroke="#111" stroke-width="0.2" text-anchor="middle">30</text>
<text x="427.75" y="160.70" font-size="7.2" font-family="Liberation Sans, sans-serif" fill="#111" stroke="#111" stroke-width="0.2" text-anchor="middle">101</text>
<text x="427.75" y="167.10" font-size="7.2" font-family="Liberation Sans, sans-serif" fill="#111" stroke="#111" stroke-width="0.2" text-anchor="middle">7</text>
<line x1="453.90" y1="169.70" x2="453.90" y2="173.20" stroke="#000" stroke-width="1.1"/>
<text x="453.90" y="182.30" font-size="7.4" font-family="Liberation Sans, sans-serif" fill="#111" stroke="#111" stroke-width="0.2" text-anchor="middle">60</text>
<text x="453.90" y="160.70" font-size="7.2" font-family="Liberation Sans, sans-serif" fill="#111" stroke="#111" stroke-width="0.2" text-anchor="middle">51</text>
<text x="453.90" y="167.10" font-size="7.2" font-family="Liberation Sans, sans-serif" fill="#111" stroke="#111" stroke-width="0.2" text-anchor="middle">3</text>
<line x1="480.05" y1="169.70" x2="480.05" y2="173.20" stroke="#000" stroke-width="1.1"/>
<text x="480.05" y="182.30" font-size="7.4" font-family="Liberation Sans, sans-serif" fill="#111" stroke="#111" stroke-width="0.2" text-anchor="middle">90</text>
<text x="480.05" y="160.70" font-size="7.2" font-family="Liberation Sans, sans-serif" fill="#111" stroke="#111" stroke-width="0.2" text-anchor="middle">5</text>
<text x="480.05" y="167.10" font-size="7.2" font-family="Liberation Sans, sans-serif" fill="#111" stroke="#111" stroke-width="0.2" text-anchor="middle">1</text>
<line x1="506.20" y1="169.70" x2="506.20" y2="173.20" stroke="#000" stroke-width="1.1"/>
<text x="506.20" y="182.30" font-size="7.4" font-family="Liberation Sans, sans-serif" fill="#111" stroke="#111" stroke-width="0.2" text-anchor="middle">120</text>
<text x="506.20" y="160.70" font-size="7.2" font-family="Liberation Sans, sans-serif" fill="#111" stroke="#111" stroke-width="0.2" text-anchor="middle">0</text>
<text x="506.20" y="167.10" font-size="7.2" font-family="Liberation Sans, sans-serif" fill="#111" stroke="#111" stroke-width="0.2" text-anchor="middle">0</text>
<text x="454.00" y="195.10" font-size="9.9" font-family="Liberation Sans, sans-serif" fill="#111" stroke="#111" stroke-width="0.2" text-anchor="middle" textLength="17" lengthAdjust="spacingAndGlyphs">Time</text>
<text x="453.60" y="205.90" font-size="9.0" font-family="Liberation Sans, sans-serif" fill="#000" stroke="#000" stroke-width="0.12" text-anchor="middle" font-weight="bold" textLength="45.5" lengthAdjust="spacingAndGlyphs">p=&lt;0.001</text>
<text x="112.40" y="227.30" font-size="10" font-family="Liberation Sans, sans-serif" fill="#111" stroke="#111" stroke-width="0.2" text-anchor="middle" font-weight="bold" font-style="italic" textLength="35.6" lengthAdjust="spacingAndGlyphs">DDX3X</text>
<text x="69.30" y="240.20" font-size="5.9" font-family="Liberation Sans, sans-serif" fill="#222" stroke="#222" stroke-width="0.18" textLength="16.2" lengthAdjust="spacingAndGlyphs">Strata</text>
<line x1="93.20" y1="238.10" x2="100.40" y2="238.10" stroke="#1f2b4d" stroke-width="1.2"/>
<line x1="96.80" y1="236.90" x2="96.80" y2="239.30" stroke="#1f2b4d" stroke-width="1.0"/>
<text x="102.20" y="240.20" font-size="5.9" font-family="Liberation Sans, sans-serif" fill="#222" stroke="#222" stroke-width="0.18" textLength="19.6" lengthAdjust="spacingAndGlyphs">Mut=0</text>
<line x1="125.20" y1="238.10" x2="132.50" y2="238.10" stroke="#7e0d2c" stroke-width="1.2"/>
<line x1="128.80" y1="236.90" x2="128.80" y2="239.30" stroke="#7e0d2c" stroke-width="1.0"/>
<text x="134.30" y="240.20" font-size="5.9" font-family="Liberation Sans, sans-serif" fill="#222" stroke="#222" stroke-width="0.18" textLength="18.6" lengthAdjust="spacingAndGlyphs">Mut=1</text>
<text transform="translate(26.80,280.00) rotate(-90)" font-size="9.6" font-family="Liberation Sans, sans-serif" fill="#111" stroke="#111" stroke-width="0.3" text-anchor="middle" textLength="68" lengthAdjust="spacingAndGlyphs">Survival probability</text>
<text x="47.80" y="247.30" font-size="7.6" font-family="Liberation Sans, sans-serif" fill="#111" stroke="#111" stroke-width="0.2" text-anchor="end" textLength="14.6" lengthAdjust="spacingAndGlyphs">1.00</text>
<line x1="51.80" y1="245.30" x2="55.20" y2="245.30" stroke="#000" stroke-width="1.1"/>
<text x="47.80" y="264.65" font-size="7.6" font-family="Liberation Sans, sans-serif" fill="#111" stroke="#111" stroke-width="0.2" text-anchor="end" textLength="14.6" lengthAdjust="spacingAndGlyphs">0.75</text>
<line x1="51.80" y1="262.65" x2="55.20" y2="262.65" stroke="#000" stroke-width="1.1"/>
<text x="47.80" y="282.00" font-size="7.6" font-family="Liberation Sans, sans-serif" fill="#111" stroke="#111" stroke-width="0.2" text-anchor="end" textLength="14.6" lengthAdjust="spacingAndGlyphs">0.50</text>
<line x1="51.80" y1="280.00" x2="55.20" y2="280.00" stroke="#000" stroke-width="1.1"/>
<text x="47.80" y="299.35" font-size="7.6" font-family="Liberation Sans, sans-serif" fill="#111" stroke="#111" stroke-width="0.2" text-anchor="end" textLength="14.6" lengthAdjust="spacingAndGlyphs">0.25</text>
<line x1="51.80" y1="297.35" x2="55.20" y2="297.35" stroke="#000" stroke-width="1.1"/>
<text x="47.80" y="316.70" font-size="7.6" font-family="Liberation Sans, sans-serif" fill="#111" stroke="#111" stroke-width="0.2" text-anchor="end" textLength="14.6" lengthAdjust="spacingAndGlyphs">0.00</text>
<line x1="51.80" y1="314.70" x2="55.20" y2="314.70" stroke="#000" stroke-width="1.1"/>
<line x1="55.00" y1="242.00" x2="55.00" y2="318.70" stroke="#000" stroke-width="1.5"/>
<line x1="54.30" y1="318.00" x2="169.20" y2="318.00" stroke="#000" stroke-width="1.5"/>
<line x1="59.60" y1="318.00" x2="59.60" y2="321.60" stroke="#000" stroke-width="1.1"/>
<text x="59.60" y="330.90" font-size="7.4" font-family="Liberation Sans, sans-serif" fill="#111" stroke="#111" stroke-width="0.2" text-anchor="middle">0</text>
<line x1="85.75" y1="318.00" x2="85.75" y2="321.60" stroke="#000" stroke-width="1.1"/>
<text x="85.75" y="330.90" font-size="7.4" font-family="Liberation Sans, sans-serif" fill="#111" stroke="#111" stroke-width="0.2" text-anchor="middle">30</text>
<line x1="111.90" y1="318.00" x2="111.90" y2="321.60" stroke="#000" stroke-width="1.1"/>
<text x="111.90" y="330.90" font-size="7.4" font-family="Liberation Sans, sans-serif" fill="#111" stroke="#111" stroke-width="0.2" text-anchor="middle">60</text>
<line x1="138.05" y1="318.00" x2="138.05" y2="321.60" stroke="#000" stroke-width="1.1"/>
<text x="138.05" y="330.90" font-size="7.4" font-family="Liberation Sans, sans-serif" fill="#111" stroke="#111" stroke-width="0.2" text-anchor="middle">90</text>
<line x1="164.20" y1="318.00" x2="164.20" y2="321.60" stroke="#000" stroke-width="1.1"/>
<text x="164.20" y="330.90" font-size="7.4" font-family="Liberation Sans, sans-serif" fill="#111" stroke="#111" stroke-width="0.2" text-anchor="middle">120</text>
<text x="112.00" y="343.10" font-size="9.9" font-family="Liberation Sans, sans-serif" fill="#111" stroke="#111" stroke-width="0.2" text-anchor="middle" textLength="17" lengthAdjust="spacingAndGlyphs">Time</text>
<polyline points="60.50,245.50 62.20,245.50 62.20,247.20 63.90,247.20 63.90,248.90 65.43,248.90 65.43,250.43 66.97,250.43 66.97,251.97 68.50,251.97 68.50,253.50 70.25,253.50 70.25,254.65 72.00,254.65 72.00,255.80 73.75,255.80 73.75,257.55 75.50,257.55 75.50,259.30 77.03,259.30 77.03,260.47 78.57,260.47 78.57,261.63 80.10,261.63 80.10,262.80 81.63,262.80 81.63,263.57 83.17,263.57 83.17,264.33 84.70,264.33 84.70,265.10 86.23,265.10 86.23,266.07 87.77,266.07 87.77,267.03 89.30,267.03 89.30,268.00 90.83,268.00 90.83,268.77 92.37,268.77 92.37,269.53 93.90,269.53 93.90,270.30 95.43,270.30 95.43,270.87 96.97,270.87 96.97,271.43 98.50,271.43 98.50,272.00 100.07,272.00 100.07,272.77 101.63,272.77 101.63,273.53 103.20,273.53 103.20,274.30 104.73,274.30 104.73,274.87 106.27,274.87 106.27,275.43 107.80,275.43 107.80,276.00 110.00,276.00 110.00,277.50 111.53,277.50 111.53,278.83 113.07,278.83 113.07,280.17 114.60,280.17 114.60,281.50 116.90,281.50 116.90,283.80 118.65,283.80 118.65,284.10 120.40,284.10 120.40,284.40 122.10,284.40 122.10,285.85 123.80,285.85 123.80,287.30 125.37,287.30 125.37,287.70 126.93,287.70 126.93,288.10 128.50,288.10 128.50,288.50 130.50,288.50 130.50,289.05 132.50,289.05 132.50,289.60 133.10,289.60 133.10,291.05 133.70,291.05 133.70,292.50 162.50,292.50" fill="none" stroke="#1f2b4d" stroke-width="1.7" stroke-linejoin="miter" stroke-linecap="square"/>
<line x1="162.50" y1="291.20" x2="162.50" y2="293.80" stroke="#1f2b4d" stroke-width="1.0"/>
<line x1="155.50" y1="291.20" x2="155.50" y2="293.80" stroke="#1f2b4d" stroke-width="1.0"/>
<line x1="148.50" y1="291.20" x2="148.50" y2="293.80" stroke="#1f2b4d" stroke-width="1.0"/>
<line x1="141.50" y1="291.20" x2="141.50" y2="293.80" stroke="#1f2b4d" stroke-width="1.0"/>
<polyline points="60.50,245.50 69.10,245.50 69.10,256.80 75.20,256.80 75.20,271.40 84.50,271.40 84.50,285.60 98.30,285.60 98.30,300.30 112.40,300.30" fill="none" stroke="#7e0d2c" stroke-width="1.7" stroke-linejoin="miter" stroke-linecap="square"/>
<line x1="112.40" y1="299.00" x2="112.40" y2="301.60" stroke="#7e0d2c" stroke-width="1.0"/>
<text x="101.00" y="265.80" font-size="6.8" font-family="Liberation Serif, serif" fill="#2a2a2a" stroke="#2a2a2a" stroke-width="0.12" textLength="35.4" lengthAdjust="spacingAndGlyphs">62.2 months</text>
<text x="102.50" y="309.20" font-size="6.8" font-family="Liberation Serif, serif" fill="#2a2a2a" stroke="#2a2a2a" stroke-width="0.12" textLength="34.8" lengthAdjust="spacingAndGlyphs">28.1 months</text>
<text x="55.00" y="351.70" font-size="7.2" font-family="Liberation Sans, sans-serif" fill="#111" stroke="#111" stroke-width="0.2" textLength="51" lengthAdjust="spacingAndGlyphs">Number at risk</text>
<text transform="translate(18.10,361.60) rotate(-90)" font-size="9.9" font-family="Liberation Sans, sans-serif" fill="#111" stroke="#111" stroke-width="0.2" text-anchor="middle" textLength="20" lengthAdjust="spacingAndGlyphs">Strata</text>
<text x="47.60" y="359.00" font-size="6.8" font-family="Liberation Sans, sans-serif" fill="#3d5a88" stroke="#3d5a88" stroke-width="0.2" text-anchor="end" textLength="22.8" lengthAdjust="spacingAndGlyphs">Mut=0</text>
<text x="47.60" y="365.40" font-size="6.8" font-family="Liberation Sans, sans-serif" fill="#8a2848" stroke="#8a2848" stroke-width="0.2" text-anchor="end" textLength="22.8" lengthAdjust="spacingAndGlyphs">Mut=1</text>
<line x1="51.00" y1="357.60" x2="55.00" y2="357.60" stroke="#000" stroke-width="1.1"/>
<line x1="51.00" y1="363.60" x2="55.00" y2="363.60" stroke="#000" stroke-width="1.1"/>
<line x1="55.00" y1="353.80" x2="55.00" y2="368.40" stroke="#000" stroke-width="1.5"/>
<line x1="54.30" y1="367.70" x2="169.60" y2="367.70" stroke="#000" stroke-width="1.5"/>
<line x1="59.60" y1="367.70" x2="59.60" y2="371.20" stroke="#000" stroke-width="1.1"/>
<text x="59.60" y="380.30" font-size="7.4" font-family="Liberation Sans, sans-serif" fill="#111" stroke="#111" stroke-width="0.2" text-anchor="middle">0</text>
<text x="61.20" y="358.70" font-size="7.2" font-family="Liberation Sans, sans-serif" fill="#111" stroke="#111" stroke-width="0.2" text-anchor="middle">180</text>
<text x="61.20" y="365.10" font-size="7.2" font-family="Liberation Sans, sans-serif" fill="#111" stroke="#111" stroke-width="0.2" text-anchor="middle">6</text>
<line x1="85.75" y1="367.70" x2="85.75" y2="371.20" stroke="#000" stroke-width="1.1"/>
<text x="85.75" y="380.30" font-size="7.4" font-family="Liberation Sans, sans-serif" fill="#111" stroke="#111" stroke-width="0.2" text-anchor="middle">30</text>
<text x="85.75" y="358.70" font-size="7.2" font-family="Liberation Sans, sans-serif" fill="#111" stroke="#111" stroke-width="0.2" text-anchor="middle">106</text>
<text x="85.75" y="365.10" font-size="7.2" font-family="Liberation Sans, sans-serif" fill="#111" stroke="#111" stroke-width="0.2" text-anchor="middle">2</text>
<line x1="111.90" y1="367.70" x2="111.90" y2="371.20" stroke="#000" stroke-width="1.1"/>
<text x="111.90" y="380.30" font-size="7.4" font-family="Liberation Sans, sans-serif" fill="#111" stroke="#111" stroke-width="0.2" text-anchor="middle">60</text>
<text x="111.90" y="358.70" font-size="7.2" font-family="Liberation Sans, sans-serif" fill="#111" stroke="#111" stroke-width="0.2" text-anchor="middle">54</text>
<text x="111.90" y="365.10" font-size="7.2" font-family="Liberation Sans, sans-serif" fill="#111" stroke="#111" stroke-width="0.2" text-anchor="middle">0</text>
<line x1="138.05" y1="367.70" x2="138.05" y2="371.20" stroke="#000" stroke-width="1.1"/>
<text x="138.05" y="380.30" font-size="7.4" font-family="Liberation Sans, sans-serif" fill="#111" stroke="#111" stroke-width="0.2" text-anchor="middle">90</text>
<text x="138.05" y="358.70" font-size="7.2" font-family="Liberation Sans, sans-serif" fill="#111" stroke="#111" stroke-width="0.2" text-anchor="middle">6</text>
<text x="138.05" y="365.10" font-size="7.2" font-family="Liberation Sans, sans-serif" fill="#111" stroke="#111" stroke-width="0.2" text-anchor="middle">0</text>
<line x1="164.20" y1="367.70" x2="164.20" y2="371.20" stroke="#000" stroke-width="1.1"/>
<text x="164.20" y="380.30" font-size="7.4" font-family="Liberation Sans, sans-serif" fill="#111" stroke="#111" stroke-width="0.2" text-anchor="middle">120</text>
<text x="164.20" y="358.70" font-size="7.2" font-family="Liberation Sans, sans-serif" fill="#111" stroke="#111" stroke-width="0.2" text-anchor="middle">0</text>
<text x="164.20" y="365.10" font-size="7.2" font-family="Liberation Sans, sans-serif" fill="#111" stroke="#111" stroke-width="0.2" text-anchor="middle">0</text>
<text x="112.00" y="392.60" font-size="9.9" font-family="Liberation Sans, sans-serif" fill="#111" stroke="#111" stroke-width="0.2" text-anchor="middle" textLength="17" lengthAdjust="spacingAndGlyphs">Time</text>
<text x="111.60" y="406.10" font-size="9.0" font-family="Liberation Sans, sans-serif" fill="#000" stroke="#000" stroke-width="0.12" text-anchor="middle" font-weight="bold" textLength="40" lengthAdjust="spacingAndGlyphs">p=0.166</text>
<text x="283.40" y="227.30" font-size="10" font-family="Liberation Sans, sans-serif" fill="#111" stroke="#111" stroke-width="0.2" text-anchor="middle" font-weight="bold" font-style="italic" textLength="23.6" lengthAdjust="spacingAndGlyphs">TP53</text>
<text x="240.30" y="240.20" font-size="5.9" font-family="Liberation Sans, sans-serif" fill="#222" stroke="#222" stroke-width="0.18" textLength="16.2" lengthAdjust="spacingAndGlyphs">Strata</text>
<line x1="264.20" y1="238.10" x2="271.40" y2="238.10" stroke="#1f2b4d" stroke-width="1.2"/>
<line x1="267.80" y1="236.90" x2="267.80" y2="239.30" stroke="#1f2b4d" stroke-width="1.0"/>
<text x="273.20" y="240.20" font-size="5.9" font-family="Liberation Sans, sans-serif" fill="#222" stroke="#222" stroke-width="0.18" textLength="19.6" lengthAdjust="spacingAndGlyphs">Mut=0</text>
<line x1="296.20" y1="238.10" x2="303.50" y2="238.10" stroke="#7e0d2c" stroke-width="1.2"/>
<line x1="299.80" y1="236.90" x2="299.80" y2="239.30" stroke="#7e0d2c" stroke-width="1.0"/>
<text x="305.30" y="240.20" font-size="5.9" font-family="Liberation Sans, sans-serif" fill="#222" stroke="#222" stroke-width="0.18" textLength="18.6" lengthAdjust="spacingAndGlyphs">Mut=1</text>
<text transform="translate(197.80,280.00) rotate(-90)" font-size="9.6" font-family="Liberation Sans, sans-serif" fill="#111" stroke="#111" stroke-width="0.3" text-anchor="middle" textLength="68" lengthAdjust="spacingAndGlyphs">Survival probability</text>
<text x="218.80" y="247.30" font-size="7.6" font-family="Liberation Sans, sans-serif" fill="#111" stroke="#111" stroke-width="0.2" text-anchor="end" textLength="14.6" lengthAdjust="spacingAndGlyphs">1.00</text>
<line x1="222.80" y1="245.30" x2="226.20" y2="245.30" stroke="#000" stroke-width="1.1"/>
<text x="218.80" y="264.65" font-size="7.6" font-family="Liberation Sans, sans-serif" fill="#111" stroke="#111" stroke-width="0.2" text-anchor="end" textLength="14.6" lengthAdjust="spacingAndGlyphs">0.75</text>
<line x1="222.80" y1="262.65" x2="226.20" y2="262.65" stroke="#000" stroke-width="1.1"/>
<text x="218.80" y="282.00" font-size="7.6" font-family="Liberation Sans, sans-serif" fill="#111" stroke="#111" stroke-width="0.2" text-anchor="end" textLength="14.6" lengthAdjust="spacingAndGlyphs">0.50</text>
<line x1="222.80" y1="280.00" x2="226.20" y2="280.00" stroke="#000" stroke-width="1.1"/>
<text x="218.80" y="299.35" font-size="7.6" font-family="Liberation Sans, sans-serif" fill="#111" stroke="#111" stroke-width="0.2" text-anchor="end" textLength="14.6" lengthAdjust="spacingAndGlyphs">0.25</text>
<line x1="222.80" y1="297.35" x2="226.20" y2="297.35" stroke="#000" stroke-width="1.1"/>
<text x="218.80" y="316.70" font-size="7.6" font-family="Liberation Sans, sans-serif" fill="#111" stroke="#111" stroke-width="0.2" text-anchor="end" textLength="14.6" lengthAdjust="spacingAndGlyphs">0.00</text>
<line x1="222.80" y1="314.70" x2="226.20" y2="314.70" stroke="#000" stroke-width="1.1"/>
<line x1="226.00" y1="242.00" x2="226.00" y2="318.70" stroke="#000" stroke-width="1.5"/>
<line x1="225.30" y1="318.00" x2="340.20" y2="318.00" stroke="#000" stroke-width="1.5"/>
<line x1="230.60" y1="318.00" x2="230.60" y2="321.60" stroke="#000" stroke-width="1.1"/>
<text x="230.60" y="330.90" font-size="7.4" font-family="Liberation Sans, sans-serif" fill="#111" stroke="#111" stroke-width="0.2" text-anchor="middle">0</text>
<line x1="256.75" y1="318.00" x2="256.75" y2="321.60" stroke="#000" stroke-width="1.1"/>
<text x="256.75" y="330.90" font-size="7.4" font-family="Liberation Sans, sans-serif" fill="#111" stroke="#111" stroke-width="0.2" text-anchor="middle">30</text>
<line x1="282.90" y1="318.00" x2="282.90" y2="321.60" stroke="#000" stroke-width="1.1"/>
<text x="282.90" y="330.90" font-size="7.4" font-family="Liberation Sans, sans-serif" fill="#111" stroke="#111" stroke-width="0.2" text-anchor="middle">60</text>
<line x1="309.05" y1="318.00" x2="309.05" y2="321.60" stroke="#000" stroke-width="1.1"/>
<text x="309.05" y="330.90" font-size="7.4" font-family="Liberation Sans, sans-serif" fill="#111" stroke="#111" stroke-width="0.2" text-anchor="middle">90</text>
<line x1="335.20" y1="318.00" x2="335.20" y2="321.60" stroke="#000" stroke-width="1.1"/>
<text x="335.20" y="330.90" font-size="7.4" font-family="Liberation Sans, sans-serif" fill="#111" stroke="#111" stroke-width="0.2" text-anchor="middle">120</text>
<text x="283.00" y="343.10" font-size="9.9" font-family="Liberation Sans, sans-serif" fill="#111" stroke="#111" stroke-width="0.2" text-anchor="middle" textLength="17" lengthAdjust="spacingAndGlyphs">Time</text>
<polyline points="231.20,246.00 233.05,246.00 233.05,247.45 234.90,247.45 234.90,248.90 236.83,248.90 236.83,249.50 238.77,249.50 238.77,250.10 240.70,250.10 240.70,250.70 242.45,250.70 242.45,251.85 244.20,251.85 244.20,253.00 245.35,253.00 245.35,254.40 246.50,254.40 246.50,255.80 248.20,255.80 248.20,257.00 249.90,257.00 249.90,258.20 251.65,258.20 251.65,259.05 253.40,259.05 253.40,259.90 255.10,259.90 255.10,261.05 256.80,261.05 256.80,262.20 258.55,262.20 258.55,263.05 260.30,263.05 260.30,263.90 262.05,263.90 262.05,265.05 263.80,265.05 263.80,266.20 265.50,266.20 265.50,266.80 267.20,266.80 267.20,267.40 268.95,267.40 268.95,268.55 270.70,268.55 270.70,269.70 272.45,269.70 272.45,270.85 274.20,270.85 274.20,272.00 275.90,272.00 275.90,272.60 277.60,272.60 277.60,273.20 279.35,273.20 279.35,274.05 281.10,274.05 281.10,274.90 282.55,274.90 282.55,275.60 284.00,275.60 284.00,276.30 285.15,276.30 285.15,278.35 286.30,278.35 286.30,280.40 288.60,280.40 288.60,281.50 290.05,281.50 290.05,281.80 291.50,281.80 291.50,282.10 292.95,282.10 292.95,283.55 294.40,283.55 294.40,285.00 296.70,285.00 296.70,287.30 298.45,287.30 298.45,287.90 300.20,287.90 300.20,288.50 301.90,288.50 301.90,288.75 303.60,288.75 303.60,289.00 304.20,289.00 304.20,290.90 304.80,290.90 304.80,292.80 333.60,292.80" fill="none" stroke="#1f2b4d" stroke-width="1.7" stroke-linejoin="miter" stroke-linecap="square"/>
<line x1="333.60" y1="291.50" x2="333.60" y2="294.10" stroke="#1f2b4d" stroke-width="1.0"/>
<line x1="326.60" y1="291.50" x2="326.60" y2="294.10" stroke="#1f2b4d" stroke-width="1.0"/>
<line x1="319.60" y1="291.50" x2="319.60" y2="294.10" stroke="#1f2b4d" stroke-width="1.0"/>
<line x1="312.60" y1="291.50" x2="312.60" y2="294.10" stroke="#1f2b4d" stroke-width="1.0"/>
<polyline points="231.20,246.00 232.75,246.00 232.75,247.15 234.30,247.15 234.30,248.30 234.90,248.30 234.90,250.35 235.50,250.35 235.50,252.40 236.07,252.40 236.07,253.93 236.63,253.93 236.63,255.47 237.20,255.47 237.20,257.00 237.80,257.00 237.80,258.93 238.40,258.93 238.40,260.87 239.00,260.87 239.00,262.80 239.28,262.80 239.28,264.38 239.55,264.38 239.55,265.95 239.82,265.95 239.82,267.53 240.10,267.53 240.10,269.10 241.55,269.10 241.55,269.95 243.00,269.95 243.00,270.80 243.85,270.80 243.85,272.85 244.70,272.85 244.70,274.90 247.00,274.90 247.00,277.20 247.90,277.20 247.90,278.95 248.80,278.95 248.80,280.70 250.80,280.70 250.80,280.95 252.80,280.95 252.80,281.20 254.25,281.20 254.25,282.95 255.70,282.95 255.70,284.70 256.00,284.70 256.00,286.15 256.30,286.15 256.30,287.60 259.70,287.60 261.15,287.60 261.15,288.45 262.60,288.45 262.60,289.30 264.90,289.30 264.90,290.50 265.50,290.50 265.50,292.80 281.70,292.80 281.95,292.80 281.95,294.70 282.20,294.70 282.20,296.60 319.40,296.60" fill="none" stroke="#7e0d2c" stroke-width="1.7" stroke-linejoin="miter" stroke-linecap="square"/>
<line x1="319.40" y1="295.30" x2="319.40" y2="297.90" stroke="#7e0d2c" stroke-width="1.0"/>
<line x1="303.40" y1="295.30" x2="303.40" y2="297.90" stroke="#7e0d2c" stroke-width="1.0"/>
<line x1="287.40" y1="295.30" x2="287.40" y2="297.90" stroke="#7e0d2c" stroke-width="1.0"/>
<text x="272.90" y="265.80" font-size="6.8" font-family="Liberation Serif, serif" fill="#2a2a2a" stroke="#2a2a2a" stroke-width="0.12" textLength="35.4" lengthAdjust="spacingAndGlyphs">62.2 months</text>
<text x="273.50" y="309.20" font-size="6.8" font-family="Liberation Serif, serif" fill="#2a2a2a" stroke="#2a2a2a" stroke-width="0.12" textLength="36.1" lengthAdjust="spacingAndGlyphs">20.2 months</text>
<text x="226.00" y="351.70" font-size="7.2" font-family="Liberation Sans, sans-serif" fill="#111" stroke="#111" stroke-width="0.2" textLength="51" lengthAdjust="spacingAndGlyphs">Number at risk</text>
<text transform="translate(189.10,361.60) rotate(-90)" font-size="9.9" font-family="Liberation Sans, sans-serif" fill="#111" stroke="#111" stroke-width="0.2" text-anchor="middle" textLength="20" lengthAdjust="spacingAndGlyphs">Strata</text>
<text x="218.60" y="359.00" font-size="6.8" font-family="Liberation Sans, sans-serif" fill="#3d5a88" stroke="#3d5a88" stroke-width="0.2" text-anchor="end" textLength="22.8" lengthAdjust="spacingAndGlyphs">Mut=0</text>
<text x="218.60" y="365.40" font-size="6.8" font-family="Liberation Sans, sans-serif" fill="#8a2848" stroke="#8a2848" stroke-width="0.2" text-anchor="end" textLength="22.8" lengthAdjust="spacingAndGlyphs">Mut=1</text>
<line x1="222.00" y1="357.60" x2="226.00" y2="357.60" stroke="#000" stroke-width="1.1"/>
<line x1="222.00" y1="363.60" x2="226.00" y2="363.60" stroke="#000" stroke-width="1.1"/>
<line x1="226.00" y1="353.80" x2="226.00" y2="368.40" stroke="#000" stroke-width="1.5"/>
<line x1="225.30" y1="367.70" x2="340.60" y2="367.70" stroke="#000" stroke-width="1.5"/>
<line x1="230.60" y1="367.70" x2="230.60" y2="371.20" stroke="#000" stroke-width="1.1"/>
<text x="230.60" y="380.30" font-size="7.4" font-family="Liberation Sans, sans-serif" fill="#111" stroke="#111" stroke-width="0.2" text-anchor="middle">0</text>
<text x="232.20" y="358.70" font-size="7.2" font-family="Liberation Sans, sans-serif" fill="#111" stroke="#111" stroke-width="0.2" text-anchor="middle">153</text>
<text x="232.20" y="365.10" font-size="7.2" font-family="Liberation Sans, sans-serif" fill="#111" stroke="#111" stroke-width="0.2" text-anchor="middle">33</text>
<line x1="256.75" y1="367.70" x2="256.75" y2="371.20" stroke="#000" stroke-width="1.1"/>
<text x="256.75" y="380.30" font-size="7.4" font-family="Liberation Sans, sans-serif" fill="#111" stroke="#111" stroke-width="0.2" text-anchor="middle">30</text>
<text x="256.75" y="358.70" font-size="7.2" font-family="Liberation Sans, sans-serif" fill="#111" stroke="#111" stroke-width="0.2" text-anchor="middle">97</text>
<text x="256.75" y="365.10" font-size="7.2" font-family="Liberation Sans, sans-serif" fill="#111" stroke="#111" stroke-width="0.2" text-anchor="middle">11</text>
<line x1="282.90" y1="367.70" x2="282.90" y2="371.20" stroke="#000" stroke-width="1.1"/>
<text x="282.90" y="380.30" font-size="7.4" font-family="Liberation Sans, sans-serif" fill="#111" stroke="#111" stroke-width="0.2" text-anchor="middle">60</text>
<text x="282.90" y="358.70" font-size="7.2" font-family="Liberation Sans, sans-serif" fill="#111" stroke="#111" stroke-width="0.2" text-anchor="middle">49</text>
<text x="282.90" y="365.10" font-size="7.2" font-family="Liberation Sans, sans-serif" fill="#111" stroke="#111" stroke-width="0.2" text-anchor="middle">5</text>
<line x1="309.05" y1="367.70" x2="309.05" y2="371.20" stroke="#000" stroke-width="1.1"/>
<text x="309.05" y="380.30" font-size="7.4" font-family="Liberation Sans, sans-serif" fill="#111" stroke="#111" stroke-width="0.2" text-anchor="middle">90</text>
<text x="309.05" y="358.70" font-size="7.2" font-family="Liberation Sans, sans-serif" fill="#111" stroke="#111" stroke-width="0.2" text-anchor="middle">4</text>
<text x="309.05" y="365.10" font-size="7.2" font-family="Liberation Sans, sans-serif" fill="#111" stroke="#111" stroke-width="0.2" text-anchor="middle">2</text>
<line x1="335.20" y1="367.70" x2="335.20" y2="371.20" stroke="#000" stroke-width="1.1"/>
<text x="335.20" y="380.30" font-size="7.4" font-family="Liberation Sans, sans-serif" fill="#111" stroke="#111" stroke-width="0.2" text-anchor="middle">120</text>
<text x="335.20" y="358.70" font-size="7.2" font-family="Liberation Sans, sans-serif" fill="#111" stroke="#111" stroke-width="0.2" text-anchor="middle">0</text>
<text x="335.20" y="365.10" font-size="7.2" font-family="Liberation Sans, sans-serif" fill="#111" stroke="#111" stroke-width="0.2" text-anchor="middle">0</text>
<text x="283.00" y="392.60" font-size="9.9" font-family="Liberation Sans, sans-serif" fill="#111" stroke="#111" stroke-width="0.2" text-anchor="middle" textLength="17" lengthAdjust="spacingAndGlyphs">Time</text>
<text x="282.60" y="406.10" font-size="9.0" font-family="Liberation Sans, sans-serif" fill="#000" stroke="#000" stroke-width="0.12" text-anchor="middle" font-weight="bold" textLength="45.5" lengthAdjust="spacingAndGlyphs">p=&lt;0.001</text>
<text x="454.40" y="227.30" font-size="10" font-family="Liberation Sans, sans-serif" fill="#111" stroke="#111" stroke-width="0.2" text-anchor="middle" font-weight="bold" font-style="italic" textLength="24.3" lengthAdjust="spacingAndGlyphs">MGA</text>
<text x="411.30" y="240.20" font-size="5.9" font-family="Liberation Sans, sans-serif" fill="#222" stroke="#222" stroke-width="0.18" textLength="16.2" lengthAdjust="spacingAndGlyphs">Strata</text>
<line x1="435.20" y1="238.10" x2="442.40" y2="238.10" stroke="#1f2b4d" stroke-width="1.2"/>
<line x1="438.80" y1="236.90" x2="438.80" y2="239.30" stroke="#1f2b4d" stroke-width="1.0"/>
<text x="444.20" y="240.20" font-size="5.9" font-family="Liberation Sans, sans-serif" fill="#222" stroke="#222" stroke-width="0.18" textLength="19.6" lengthAdjust="spacingAndGlyphs">Mut=0</text>
<line x1="467.20" y1="238.10" x2="474.50" y2="238.10" stroke="#7e0d2c" stroke-width="1.2"/>
<line x1="470.80" y1="236.90" x2="470.80" y2="239.30" stroke="#7e0d2c" stroke-width="1.0"/>
<text x="476.30" y="240.20" font-size="5.9" font-family="Liberation Sans, sans-serif" fill="#222" stroke="#222" stroke-width="0.18" textLength="18.6" lengthAdjust="spacingAndGlyphs">Mut=1</text>
<text transform="translate(368.80,280.00) rotate(-90)" font-size="9.6" font-family="Liberation Sans, sans-serif" fill="#111" stroke="#111" stroke-width="0.3" text-anchor="middle" textLength="68" lengthAdjust="spacingAndGlyphs">Survival probability</text>
<text x="389.80" y="247.30" font-size="7.6" font-family="Liberation Sans, sans-serif" fill="#111" stroke="#111" stroke-width="0.2" text-anchor="end" textLength="14.6" lengthAdjust="spacingAndGlyphs">1.00</text>
<line x1="393.80" y1="245.30" x2="397.20" y2="245.30" stroke="#000" stroke-width="1.1"/>
<text x="389.80" y="264.65" font-size="7.6" font-family="Liberation Sans, sans-serif" fill="#111" stroke="#111" stroke-width="0.2" text-anchor="end" textLength="14.6" lengthAdjust="spacingAndGlyphs">0.75</text>
<line x1="393.80" y1="262.65" x2="397.20" y2="262.65" stroke="#000" stroke-width="1.1"/>
<text x="389.80" y="282.00" font-size="7.6" font-family="Liberation Sans, sans-serif" fill="#111" stroke="#111" stroke-width="0.2" text-anchor="end" textLength="14.6" lengthAdjust="spacingAndGlyphs">0.50</text>
<line x1="393.80" y1="280.00" x2="397.20" y2="280.00" stroke="#000" stroke-width="1.1"/>
<text x="389.80" y="299.35" font-size="7.6" font-family="Liberation Sans, sans-serif" fill="#111" stroke="#111" stroke-width="0.2" text-anchor="end" textLength="14.6" lengthAdjust="spacingAndGlyphs">0.25</text>
<line x1="393.80" y1="297.35" x2="397.20" y2="297.35" stroke="#000" stroke-width="1.1"/>
<text x="389.80" y="316.70" font-size="7.6" font-family="Liberation Sans, sans-serif" fill="#111" stroke="#111" stroke-width="0.2" text-anchor="end" textLength="14.6" lengthAdjust="spacingAndGlyphs">0.00</text>
<line x1="393.80" y1="314.70" x2="397.20" y2="314.70" stroke="#000" stroke-width="1.1"/>
<line x1="397.00" y1="242.00" x2="397.00" y2="318.70" stroke="#000" stroke-width="1.5"/>
<line x1="396.30" y1="318.00" x2="511.20" y2="318.00" stroke="#000" stroke-width="1.5"/>
<line x1="401.60" y1="318.00" x2="401.60" y2="321.60" stroke="#000" stroke-width="1.1"/>
<text x="401.60" y="330.90" font-size="7.4" font-family="Liberation Sans, sans-serif" fill="#111" stroke="#111" stroke-width="0.2" text-anchor="middle">0</text>
<line x1="427.75" y1="318.00" x2="427.75" y2="321.60" stroke="#000" stroke-width="1.1"/>
<text x="427.75" y="330.90" font-size="7.4" font-family="Liberation Sans, sans-serif" fill="#111" stroke="#111" stroke-width="0.2" text-anchor="middle">30</text>
<line x1="453.90" y1="318.00" x2="453.90" y2="321.60" stroke="#000" stroke-width="1.1"/>
<text x="453.90" y="330.90" font-size="7.4" font-family="Liberation Sans, sans-serif" fill="#111" stroke="#111" stroke-width="0.2" text-anchor="middle">60</text>
<line x1="480.05" y1="318.00" x2="480.05" y2="321.60" stroke="#000" stroke-width="1.1"/>
<text x="480.05" y="330.90" font-size="7.4" font-family="Liberation Sans, sans-serif" fill="#111" stroke="#111" stroke-width="0.2" text-anchor="middle">90</text>
<line x1="506.20" y1="318.00" x2="506.20" y2="321.60" stroke="#000" stroke-width="1.1"/>
<text x="506.20" y="330.90" font-size="7.4" font-family="Liberation Sans, sans-serif" fill="#111" stroke="#111" stroke-width="0.2" text-anchor="middle">120</text>
<text x="454.00" y="343.10" font-size="9.9" font-family="Liberation Sans, sans-serif" fill="#111" stroke="#111" stroke-width="0.2" text-anchor="middle" textLength="17" lengthAdjust="spacingAndGlyphs">Time</text>
<polyline points="402.20,245.40 403.87,245.40 403.87,246.67 405.53,246.67 405.53,247.93 407.20,247.93 407.20,249.20 408.73,249.20 408.73,250.37 410.27,250.37 410.27,251.53 411.80,251.53 411.80,252.70 413.35,252.70 413.35,253.65 414.90,253.65 414.90,254.60 416.45,254.60 416.45,256.55 418.00,256.55 418.00,258.50 419.55,258.50 419.55,259.65 421.10,259.65 421.10,260.80 422.63,260.80 422.63,261.57 424.17,261.57 424.17,262.33 425.70,262.33 425.70,263.10 427.20,263.10 427.20,265.40 428.73,265.40 428.73,266.17 430.27,266.17 430.27,266.93 431.80,266.93 431.80,267.70 433.37,267.70 433.37,268.73 434.93,268.73 434.93,269.77 436.50,269.77 436.50,270.80 438.07,270.80 438.07,271.13 439.63,271.13 439.63,271.47 441.20,271.47 441.20,271.80 442.88,271.80 442.88,272.45 444.55,272.45 444.55,273.10 446.22,273.10 446.22,273.75 447.90,273.75 447.90,274.40 449.55,274.40 449.55,275.52 451.20,275.52 451.20,276.65 452.85,276.65 452.85,277.77 454.50,277.77 454.50,278.90 456.15,278.90 456.15,280.00 457.80,280.00 457.80,281.10 459.45,281.10 459.45,282.20 461.10,282.20 461.10,283.30 462.78,283.30 462.78,284.30 464.45,284.30 464.45,285.30 466.12,285.30 466.12,286.30 467.80,286.30 467.80,287.30 469.45,287.30 469.45,287.98 471.10,287.98 471.10,288.65 472.75,288.65 472.75,289.32 474.40,289.32 474.40,290.00 475.50,290.00 475.50,291.75 476.60,291.75 476.60,293.50 505.40,293.50" fill="none" stroke="#1f2b4d" stroke-width="1.7" stroke-linejoin="miter" stroke-linecap="square"/>
<line x1="505.40" y1="292.20" x2="505.40" y2="294.80" stroke="#1f2b4d" stroke-width="1.0"/>
<line x1="498.40" y1="292.20" x2="498.40" y2="294.80" stroke="#1f2b4d" stroke-width="1.0"/>
<line x1="491.40" y1="292.20" x2="491.40" y2="294.80" stroke="#1f2b4d" stroke-width="1.0"/>
<line x1="484.40" y1="292.20" x2="484.40" y2="294.80" stroke="#1f2b4d" stroke-width="1.0"/>
<polyline points="402.20,245.40 402.60,245.40 402.60,251.40 405.70,251.40 405.70,264.50 410.30,264.50 410.30,270.40 413.80,270.40 413.80,276.90 420.30,276.90 420.30,283.20 478.80,283.20" fill="none" stroke="#7e0d2c" stroke-width="1.7" stroke-linejoin="miter" stroke-linecap="square"/>
<line x1="478.80" y1="281.90" x2="478.80" y2="284.50" stroke="#7e0d2c" stroke-width="1.0"/>
<line x1="462.80" y1="281.90" x2="462.80" y2="284.50" stroke="#7e0d2c" stroke-width="1.0"/>
<line x1="446.80" y1="281.90" x2="446.80" y2="284.50" stroke="#7e0d2c" stroke-width="1.0"/>
<line x1="430.80" y1="281.90" x2="430.80" y2="284.50" stroke="#7e0d2c" stroke-width="1.0"/>
<text x="450.10" y="265.80" font-size="6.8" font-family="Liberation Serif, serif" fill="#2a2a2a" stroke="#2a2a2a" stroke-width="0.12" textLength="35.8" lengthAdjust="spacingAndGlyphs">61.0 months</text>
<text x="408.50" y="295.40" font-size="6.8" font-family="Liberation Serif, serif" fill="#2a2a2a" stroke="#2a2a2a" stroke-width="0.12" textLength="36" lengthAdjust="spacingAndGlyphs">21.1 months</text>
<text x="397.00" y="351.70" font-size="7.2" font-family="Liberation Sans, sans-serif" fill="#111" stroke="#111" stroke-width="0.2" textLength="51" lengthAdjust="spacingAndGlyphs">Number at risk</text>
<text transform="translate(360.10,361.60) rotate(-90)" font-size="9.9" font-family="Liberation Sans, sans-serif" fill="#111" stroke="#111" stroke-width="0.2" text-anchor="middle" textLength="20" lengthAdjust="spacingAndGlyphs">Strata</text>
<text x="389.60" y="359.00" font-size="6.8" font-family="Liberation Sans, sans-serif" fill="#3d5a88" stroke="#3d5a88" stroke-width="0.2" text-anchor="end" textLength="22.8" lengthAdjust="spacingAndGlyphs">Mut=0</text>
<text x="389.60" y="365.40" font-size="6.8" font-family="Liberation Sans, sans-serif" fill="#8a2848" stroke="#8a2848" stroke-width="0.2" text-anchor="end" textLength="22.8" lengthAdjust="spacingAndGlyphs">Mut=1</text>
<line x1="393.00" y1="357.60" x2="397.00" y2="357.60" stroke="#000" stroke-width="1.1"/>
<line x1="393.00" y1="363.60" x2="397.00" y2="363.60" stroke="#000" stroke-width="1.1"/>
<line x1="397.00" y1="353.80" x2="397.00" y2="368.40" stroke="#000" stroke-width="1.5"/>
<line x1="396.30" y1="367.70" x2="511.60" y2="367.70" stroke="#000" stroke-width="1.5"/>
<line x1="401.60" y1="367.70" x2="401.60" y2="371.20" stroke="#000" stroke-width="1.1"/>
<text x="401.60" y="380.30" font-size="7.4" font-family="Liberation Sans, sans-serif" fill="#111" stroke="#111" stroke-width="0.2" text-anchor="middle">0</text>
<text x="403.20" y="358.70" font-size="7.2" font-family="Liberation Sans, sans-serif" fill="#111" stroke="#111" stroke-width="0.2" text-anchor="middle">175</text>
<text x="403.20" y="365.10" font-size="7.2" font-family="Liberation Sans, sans-serif" fill="#111" stroke="#111" stroke-width="0.2" text-anchor="middle">11</text>
<line x1="427.75" y1="367.70" x2="427.75" y2="371.20" stroke="#000" stroke-width="1.1"/>
<text x="427.75" y="380.30" font-size="7.4" font-family="Liberation Sans, sans-serif" fill="#111" stroke="#111" stroke-width="0.2" text-anchor="middle">30</text>
<text x="427.75" y="358.70" font-size="7.2" font-family="Liberation Sans, sans-serif" fill="#111" stroke="#111" stroke-width="0.2" text-anchor="middle">105</text>
<text x="427.75" y="365.10" font-size="7.2" font-family="Liberation Sans, sans-serif" fill="#111" stroke="#111" stroke-width="0.2" text-anchor="middle">3</text>
<line x1="453.90" y1="367.70" x2="453.90" y2="371.20" stroke="#000" stroke-width="1.1"/>
<text x="453.90" y="380.30" font-size="7.4" font-family="Liberation Sans, sans-serif" fill="#111" stroke="#111" stroke-width="0.2" text-anchor="middle">60</text>
<text x="453.90" y="358.70" font-size="7.2" font-family="Liberation Sans, sans-serif" fill="#111" stroke="#111" stroke-width="0.2" text-anchor="middle">52</text>
<text x="453.90" y="365.10" font-size="7.2" font-family="Liberation Sans, sans-serif" fill="#111" stroke="#111" stroke-width="0.2" text-anchor="middle">2</text>
<line x1="480.05" y1="367.70" x2="480.05" y2="371.20" stroke="#000" stroke-width="1.1"/>
<text x="480.05" y="380.30" font-size="7.4" font-family="Liberation Sans, sans-serif" fill="#111" stroke="#111" stroke-width="0.2" text-anchor="middle">90</text>
<text x="480.05" y="358.70" font-size="7.2" font-family="Liberation Sans, sans-serif" fill="#111" stroke="#111" stroke-width="0.2" text-anchor="middle">6</text>
<text x="480.05" y="365.10" font-size="7.2" font-family="Liberation Sans, sans-serif" fill="#111" stroke="#111" stroke-width="0.2" text-anchor="middle">0</text>
<line x1="506.20" y1="367.70" x2="506.20" y2="371.20" stroke="#000" stroke-width="1.1"/>
<text x="506.20" y="380.30" font-size="7.4" font-family="Liberation Sans, sans-serif" fill="#111" stroke="#111" stroke-width="0.2" text-anchor="middle">120</text>
<text x="506.20" y="358.70" font-size="7.2" font-family="Liberation Sans, sans-serif" fill="#111" stroke="#111" stroke-width="0.2" text-anchor="middle">0</text>
<text x="506.20" y="365.10" font-size="7.2" font-family="Liberation Sans, sans-serif" fill="#111" stroke="#111" stroke-width="0.2" text-anchor="middle">0</text>
<text x="454.00" y="392.60" font-size="9.9" font-family="Liberation Sans, sans-serif" fill="#111" stroke="#111" stroke-width="0.2" text-anchor="middle" textLength="17" lengthAdjust="spacingAndGlyphs">Time</text>
<text x="453.60" y="406.10" font-size="9.0" font-family="Liberation Sans, sans-serif" fill="#000" stroke="#000" stroke-width="0.12" text-anchor="middle" font-weight="bold" textLength="40" lengthAdjust="spacingAndGlyphs">p=0.249</text>
<text x="112.40" y="459.80" font-size="10" font-family="Liberation Sans, sans-serif" fill="#111" stroke="#111" stroke-width="0.2" text-anchor="middle" font-weight="bold" textLength="96" lengthAdjust="spacingAndGlyphs">Complex Karyotype</text>
<text transform="translate(26.80,512.00) rotate(-90)" font-size="9.6" font-family="Liberation Sans, sans-serif" fill="#111" stroke="#111" stroke-width="0.3" text-anchor="middle" textLength="68" lengthAdjust="spacingAndGlyphs">Survival probability</text>
<text x="47.80" y="479.30" font-size="7.6" font-family="Liberation Sans, sans-serif" fill="#111" stroke="#111" stroke-width="0.2" text-anchor="end" textLength="14.6" lengthAdjust="spacingAndGlyphs">1.00</text>
<line x1="51.80" y1="477.30" x2="55.20" y2="477.30" stroke="#000" stroke-width="1.1"/>
<text x="47.80" y="496.65" font-size="7.6" font-family="Liberation Sans, sans-serif" fill="#111" stroke="#111" stroke-width="0.2" text-anchor="end" textLength="14.6" lengthAdjust="spacingAndGlyphs">0.75</text>
<line x1="51.80" y1="494.65" x2="55.20" y2="494.65" stroke="#000" stroke-width="1.1"/>
<text x="47.80" y="514.00" font-size="7.6" font-family="Liberation Sans, sans-serif" fill="#111" stroke="#111" stroke-width="0.2" text-anchor="end" textLength="14.6" lengthAdjust="spacingAndGlyphs">0.50</text>
<line x1="51.80" y1="512.00" x2="55.20" y2="512.00" stroke="#000" stroke-width="1.1"/>
<text x="47.80" y="531.35" font-size="7.6" font-family="Liberation Sans, sans-serif" fill="#111" stroke="#111" stroke-width="0.2" text-anchor="end" textLength="14.6" lengthAdjust="spacingAndGlyphs">0.25</text>
<line x1="51.80" y1="529.35" x2="55.20" y2="529.35" stroke="#000" stroke-width="1.1"/>
<text x="47.80" y="548.70" font-size="7.6" font-family="Liberation Sans, sans-serif" fill="#111" stroke="#111" stroke-width="0.2" text-anchor="end" textLength="14.6" lengthAdjust="spacingAndGlyphs">0.00</text>
<line x1="51.80" y1="546.70" x2="55.20" y2="546.70" stroke="#000" stroke-width="1.1"/>
<line x1="55.00" y1="474.00" x2="55.00" y2="550.70" stroke="#000" stroke-width="1.5"/>
<line x1="54.30" y1="550.00" x2="169.20" y2="550.00" stroke="#000" stroke-width="1.5"/>
<line x1="59.60" y1="550.00" x2="59.60" y2="553.60" stroke="#000" stroke-width="1.1"/>
<text x="59.60" y="562.90" font-size="7.4" font-family="Liberation Sans, sans-serif" fill="#111" stroke="#111" stroke-width="0.2" text-anchor="middle">0</text>
<line x1="85.75" y1="550.00" x2="85.75" y2="553.60" stroke="#000" stroke-width="1.1"/>
<text x="85.75" y="562.90" font-size="7.4" font-family="Liberation Sans, sans-serif" fill="#111" stroke="#111" stroke-width="0.2" text-anchor="middle">20</text>
<line x1="111.90" y1="550.00" x2="111.90" y2="553.60" stroke="#000" stroke-width="1.1"/>
<text x="111.90" y="562.90" font-size="7.4" font-family="Liberation Sans, sans-serif" fill="#111" stroke="#111" stroke-width="0.2" text-anchor="middle">40</text>
<line x1="138.05" y1="550.00" x2="138.05" y2="553.60" stroke="#000" stroke-width="1.1"/>
<text x="138.05" y="562.90" font-size="7.4" font-family="Liberation Sans, sans-serif" fill="#111" stroke="#111" stroke-width="0.2" text-anchor="middle">60</text>
<line x1="164.20" y1="550.00" x2="164.20" y2="553.60" stroke="#000" stroke-width="1.1"/>
<text x="164.20" y="562.90" font-size="7.4" font-family="Liberation Sans, sans-serif" fill="#111" stroke="#111" stroke-width="0.2" text-anchor="middle">80</text>
<text x="112.00" y="575.10" font-size="9.9" font-family="Liberation Sans, sans-serif" fill="#111" stroke="#111" stroke-width="0.2" text-anchor="middle" textLength="17" lengthAdjust="spacingAndGlyphs">Time</text>
<polyline points="60.40,477.80 61.60,477.80 61.60,479.75 62.80,479.75 62.80,481.70 63.77,481.70 63.77,483.30 64.73,483.30 64.73,484.90 65.70,484.90 65.70,486.50 66.40,486.50 66.40,487.95 67.10,487.95 67.10,489.40 67.80,489.40 67.80,491.30 68.50,491.30 68.50,493.20 70.50,493.20 70.50,495.20 71.70,495.20 71.70,497.35 72.90,497.35 72.90,499.50 75.30,499.50 75.30,501.90 76.25,501.90 76.25,503.35 77.20,503.35 77.20,504.80 78.65,504.80 78.65,505.75 80.10,505.75 80.10,506.70 81.55,506.70 81.55,507.65 83.00,507.65 83.00,508.60 84.40,508.60 84.40,510.05 85.80,510.05 85.80,511.50 87.25,511.50 87.25,512.95 88.70,512.95 88.70,514.40 89.90,514.40 89.90,515.85 91.10,515.85 91.10,517.30 92.10,517.30 92.10,518.75 93.10,518.75 93.10,520.20 94.30,520.20 94.30,521.60 95.50,521.60 95.50,523.00 96.90,523.00 96.90,524.45 98.30,524.45 98.30,525.90 99.75,525.90 99.75,527.10 101.20,527.10 101.20,528.30 102.65,528.30 102.65,528.70 104.10,528.70 104.10,529.10 105.80,529.10 105.80,529.26 107.50,529.26 107.50,529.42 109.20,529.42 109.20,529.58 110.90,529.58 110.90,529.74 112.60,529.74 112.60,529.90 114.50,529.90 114.50,531.00 116.40,531.00 116.40,532.10 118.10,532.10 118.10,532.93 119.80,532.93 119.80,533.77 121.50,533.77 121.50,534.60 123.20,534.60 123.20,535.03 124.90,535.03 124.90,535.47 126.60,535.47 126.60,535.90 128.43,535.90 128.43,535.94 130.27,535.94 130.27,535.99 132.10,535.99 132.10,536.03 133.93,536.03 133.93,536.08 135.77,536.08 135.77,536.12 137.60,536.12 137.60,536.17 139.43,536.17 139.43,536.21 141.27,536.21 141.27,536.26 143.10,536.26 143.10,536.30 143.40,536.30 143.40,537.65 143.70,537.65 143.70,539.00 169.50,539.30" fill="none" stroke="#1f2b4d" stroke-width="1.7" stroke-linejoin="miter" stroke-linecap="square"/>
<line x1="169.50" y1="538.00" x2="169.50" y2="540.60" stroke="#1f2b4d" stroke-width="1.0"/>
<line x1="162.50" y1="538.00" x2="162.50" y2="540.60" stroke="#1f2b4d" stroke-width="1.0"/>
<line x1="155.50" y1="538.00" x2="155.50" y2="540.60" stroke="#1f2b4d" stroke-width="1.0"/>
<line x1="148.50" y1="538.00" x2="148.50" y2="540.60" stroke="#1f2b4d" stroke-width="1.0"/>
<polyline points="60.40,477.80 61.20,477.80 61.20,479.73 62.00,479.73 62.00,481.67 62.80,481.67 62.80,483.60 63.27,483.60 63.27,485.20 63.73,485.20 63.73,486.80 64.20,486.80 64.20,488.40 64.58,488.40 64.58,490.10 64.95,490.10 64.95,491.80 65.33,491.80 65.33,493.50 65.70,493.50 65.70,495.20 65.92,495.20 65.92,496.88 66.15,496.88 66.15,498.55 66.38,498.55 66.38,500.22 66.60,500.22 66.60,501.90 66.93,501.90 66.93,503.83 67.27,503.83 67.27,505.77 67.60,505.77 67.60,507.70 68.30,507.70 68.30,509.10 69.00,509.10 69.00,510.50 69.75,510.50 69.75,512.45 70.50,512.45 70.50,514.40 71.45,514.40 71.45,516.30 72.40,516.30 72.40,518.20 73.60,518.20 73.60,519.65 74.80,519.65 74.80,521.10 76.00,521.10 76.00,523.05 77.20,523.05 77.20,525.00 79.60,525.00 79.60,526.90 82.00,526.90 82.00,528.80 83.90,528.80 83.90,530.70 85.80,530.70 85.80,532.70 86.55,532.70 86.55,534.35 87.30,534.35 87.30,536.00 169.50,536.00" fill="none" stroke="#7e0d2c" stroke-width="1.7" stroke-linejoin="miter" stroke-linecap="square"/>
<line x1="169.50" y1="534.70" x2="169.50" y2="537.30" stroke="#7e0d2c" stroke-width="1.0"/>
<line x1="153.50" y1="534.70" x2="153.50" y2="537.30" stroke="#7e0d2c" stroke-width="1.0"/>
<line x1="137.50" y1="534.70" x2="137.50" y2="537.30" stroke="#7e0d2c" stroke-width="1.0"/>
<line x1="121.50" y1="534.70" x2="121.50" y2="537.30" stroke="#7e0d2c" stroke-width="1.0"/>
<line x1="105.50" y1="534.70" x2="105.50" y2="537.30" stroke="#7e0d2c" stroke-width="1.0"/>
<text x="88.20" y="503.60" font-size="6.8" font-family="Liberation Serif, serif" fill="#2a2a2a" stroke="#2a2a2a" stroke-width="0.12" textLength="35.8" lengthAdjust="spacingAndGlyphs">20.2 months</text>
<text x="79.80" y="546.50" font-size="6.8" font-family="Liberation Serif, serif" fill="#2a2a2a" stroke="#2a2a2a" stroke-width="0.12" textLength="32.3" lengthAdjust="spacingAndGlyphs">7.6 months</text>
<text x="55.00" y="585.70" font-size="7.2" font-family="Liberation Sans, sans-serif" fill="#111" stroke="#111" stroke-width="0.2" textLength="51" lengthAdjust="spacingAndGlyphs">Number at risk</text>
<text transform="translate(18.10,595.60) rotate(-90)" font-size="9.9" font-family="Liberation Sans, sans-serif" fill="#111" stroke="#111" stroke-width="0.2" text-anchor="middle" textLength="20" lengthAdjust="spacingAndGlyphs">Strata</text>
<text x="47.60" y="593.00" font-size="6.8" font-family="Liberation Sans, sans-serif" fill="#3d5a88" stroke="#3d5a88" stroke-width="0.2" text-anchor="end" textLength="22.8" lengthAdjust="spacingAndGlyphs">Mut=0</text>
<text x="47.60" y="599.40" font-size="6.8" font-family="Liberation Sans, sans-serif" fill="#8a2848" stroke="#8a2848" stroke-width="0.2" text-anchor="end" textLength="22.8" lengthAdjust="spacingAndGlyphs">Mut=1</text>
<line x1="51.00" y1="591.60" x2="55.00" y2="591.60" stroke="#000" stroke-width="1.1"/>
<line x1="51.00" y1="597.60" x2="55.00" y2="597.60" stroke="#000" stroke-width="1.1"/>
<line x1="55.00" y1="587.80" x2="55.00" y2="602.40" stroke="#000" stroke-width="1.5"/>
<line x1="54.30" y1="601.70" x2="169.60" y2="601.70" stroke="#000" stroke-width="1.5"/>
<line x1="59.60" y1="601.70" x2="59.60" y2="605.20" stroke="#000" stroke-width="1.1"/>
<text x="59.60" y="614.30" font-size="7.4" font-family="Liberation Sans, sans-serif" fill="#111" stroke="#111" stroke-width="0.2" text-anchor="middle">0</text>
<text x="61.20" y="592.70" font-size="7.2" font-family="Liberation Sans, sans-serif" fill="#111" stroke="#111" stroke-width="0.2" text-anchor="middle">94</text>
<text x="61.20" y="599.10" font-size="7.2" font-family="Liberation Sans, sans-serif" fill="#111" stroke="#111" stroke-width="0.2" text-anchor="middle">37</text>
<line x1="85.75" y1="601.70" x2="85.75" y2="605.20" stroke="#000" stroke-width="1.1"/>
<text x="85.75" y="614.30" font-size="7.4" font-family="Liberation Sans, sans-serif" fill="#111" stroke="#111" stroke-width="0.2" text-anchor="middle">20</text>
<text x="85.75" y="592.70" font-size="7.2" font-family="Liberation Sans, sans-serif" fill="#111" stroke="#111" stroke-width="0.2" text-anchor="middle">44</text>
<text x="85.75" y="599.10" font-size="7.2" font-family="Liberation Sans, sans-serif" fill="#111" stroke="#111" stroke-width="0.2" text-anchor="middle">6</text>
<line x1="111.90" y1="601.70" x2="111.90" y2="605.20" stroke="#000" stroke-width="1.1"/>
<text x="111.90" y="614.30" font-size="7.4" font-family="Liberation Sans, sans-serif" fill="#111" stroke="#111" stroke-width="0.2" text-anchor="middle">40</text>
<text x="111.90" y="592.70" font-size="7.2" font-family="Liberation Sans, sans-serif" fill="#111" stroke="#111" stroke-width="0.2" text-anchor="middle">16</text>
<text x="111.90" y="599.10" font-size="7.2" font-family="Liberation Sans, sans-serif" fill="#111" stroke="#111" stroke-width="0.2" text-anchor="middle">2</text>
<line x1="138.05" y1="601.70" x2="138.05" y2="605.20" stroke="#000" stroke-width="1.1"/>
<text x="138.05" y="614.30" font-size="7.4" font-family="Liberation Sans, sans-serif" fill="#111" stroke="#111" stroke-width="0.2" text-anchor="middle">60</text>
<text x="138.05" y="592.70" font-size="7.2" font-family="Liberation Sans, sans-serif" fill="#111" stroke="#111" stroke-width="0.2" text-anchor="middle">7</text>
<text x="138.05" y="599.10" font-size="7.2" font-family="Liberation Sans, sans-serif" fill="#111" stroke="#111" stroke-width="0.2" text-anchor="middle">2</text>
<line x1="164.20" y1="601.70" x2="164.20" y2="605.20" stroke="#000" stroke-width="1.1"/>
<text x="164.20" y="614.30" font-size="7.4" font-family="Liberation Sans, sans-serif" fill="#111" stroke="#111" stroke-width="0.2" text-anchor="middle">80</text>
<text x="164.20" y="592.70" font-size="7.2" font-family="Liberation Sans, sans-serif" fill="#111" stroke="#111" stroke-width="0.2" text-anchor="middle">3</text>
<text x="164.20" y="599.10" font-size="7.2" font-family="Liberation Sans, sans-serif" fill="#111" stroke="#111" stroke-width="0.2" text-anchor="middle">1</text>
<text x="112.00" y="627.10" font-size="9.9" font-family="Liberation Sans, sans-serif" fill="#111" stroke="#111" stroke-width="0.2" text-anchor="middle" textLength="17" lengthAdjust="spacingAndGlyphs">Time</text>
<text x="111.60" y="638.10" font-size="9.0" font-family="Liberation Sans, sans-serif" fill="#000" stroke="#000" stroke-width="0.12" text-anchor="middle" font-weight="bold" textLength="40" lengthAdjust="spacingAndGlyphs">p=0.007</text>
<text x="283.40" y="459.80" font-size="10" font-family="Liberation Sans, sans-serif" fill="#111" stroke="#111" stroke-width="0.2" text-anchor="middle" font-weight="bold" textLength="40.4" lengthAdjust="spacingAndGlyphs">Del(17p)</text>
<text x="240.30" y="472.70" font-size="5.9" font-family="Liberation Sans, sans-serif" fill="#222" stroke="#222" stroke-width="0.18" textLength="16.2" lengthAdjust="spacingAndGlyphs">Strata</text>
<line x1="264.20" y1="470.60" x2="271.40" y2="470.60" stroke="#1f2b4d" stroke-width="1.2"/>
<line x1="267.80" y1="469.40" x2="267.80" y2="471.80" stroke="#1f2b4d" stroke-width="1.0"/>
<text x="273.20" y="472.70" font-size="5.9" font-family="Liberation Sans, sans-serif" fill="#222" stroke="#222" stroke-width="0.18" textLength="19.6" lengthAdjust="spacingAndGlyphs">Mut=0</text>
<line x1="296.20" y1="470.60" x2="303.50" y2="470.60" stroke="#7e0d2c" stroke-width="1.2"/>
<line x1="299.80" y1="469.40" x2="299.80" y2="471.80" stroke="#7e0d2c" stroke-width="1.0"/>
<text x="305.30" y="472.70" font-size="5.9" font-family="Liberation Sans, sans-serif" fill="#222" stroke="#222" stroke-width="0.18" textLength="18.6" lengthAdjust="spacingAndGlyphs">Mut=1</text>
<text transform="translate(197.80,512.00) rotate(-90)" font-size="9.6" font-family="Liberation Sans, sans-serif" fill="#111" stroke="#111" stroke-width="0.3" text-anchor="middle" textLength="68" lengthAdjust="spacingAndGlyphs">Survival probability</text>
<text x="218.80" y="479.30" font-size="7.6" font-family="Liberation Sans, sans-serif" fill="#111" stroke="#111" stroke-width="0.2" text-anchor="end" textLength="14.6" lengthAdjust="spacingAndGlyphs">1.00</text>
<line x1="222.80" y1="477.30" x2="226.20" y2="477.30" stroke="#000" stroke-width="1.1"/>
<text x="218.80" y="496.65" font-size="7.6" font-family="Liberation Sans, sans-serif" fill="#111" stroke="#111" stroke-width="0.2" text-anchor="end" textLength="14.6" lengthAdjust="spacingAndGlyphs">0.75</text>
<line x1="222.80" y1="494.65" x2="226.20" y2="494.65" stroke="#000" stroke-width="1.1"/>
<text x="218.80" y="514.00" font-size="7.6" font-family="Liberation Sans, sans-serif" fill="#111" stroke="#111" stroke-width="0.2" text-anchor="end" textLength="14.6" lengthAdjust="spacingAndGlyphs">0.50</text>
<line x1="222.80" y1="512.00" x2="226.20" y2="512.00" stroke="#000" stroke-width="1.1"/>
<text x="218.80" y="531.35" font-size="7.6" font-family="Liberation Sans, sans-serif" fill="#111" stroke="#111" stroke-width="0.2" text-anchor="end" textLength="14.6" lengthAdjust="spacingAndGlyphs">0.25</text>
<line x1="222.80" y1="529.35" x2="226.20" y2="529.35" stroke="#000" stroke-width="1.1"/>
<text x="218.80" y="548.70" font-size="7.6" font-family="Liberation Sans, sans-serif" fill="#111" stroke="#111" stroke-width="0.2" text-anchor="end" textLength="14.6" lengthAdjust="spacingAndGlyphs">0.00</text>
<line x1="222.80" y1="546.70" x2="226.20" y2="546.70" stroke="#000" stroke-width="1.1"/>
<line x1="226.00" y1="474.00" x2="226.00" y2="550.70" stroke="#000" stroke-width="1.5"/>
<line x1="225.30" y1="550.00" x2="340.20" y2="550.00" stroke="#000" stroke-width="1.5"/>
<line x1="230.60" y1="550.00" x2="230.60" y2="553.60" stroke="#000" stroke-width="1.1"/>
<text x="230.60" y="562.90" font-size="7.4" font-family="Liberation Sans, sans-serif" fill="#111" stroke="#111" stroke-width="0.2" text-anchor="middle">0</text>
<line x1="256.75" y1="550.00" x2="256.75" y2="553.60" stroke="#000" stroke-width="1.1"/>
<text x="256.75" y="562.90" font-size="7.4" font-family="Liberation Sans, sans-serif" fill="#111" stroke="#111" stroke-width="0.2" text-anchor="middle">20</text>
<line x1="282.90" y1="550.00" x2="282.90" y2="553.60" stroke="#000" stroke-width="1.1"/>
<text x="282.90" y="562.90" font-size="7.4" font-family="Liberation Sans, sans-serif" fill="#111" stroke="#111" stroke-width="0.2" text-anchor="middle">40</text>
<line x1="309.05" y1="550.00" x2="309.05" y2="553.60" stroke="#000" stroke-width="1.1"/>
<text x="309.05" y="562.90" font-size="7.4" font-family="Liberation Sans, sans-serif" fill="#111" stroke="#111" stroke-width="0.2" text-anchor="middle">60</text>
<line x1="335.20" y1="550.00" x2="335.20" y2="553.60" stroke="#000" stroke-width="1.1"/>
<text x="335.20" y="562.90" font-size="7.4" font-family="Liberation Sans, sans-serif" fill="#111" stroke="#111" stroke-width="0.2" text-anchor="middle">80</text>
<text x="283.00" y="575.10" font-size="9.9" font-family="Liberation Sans, sans-serif" fill="#111" stroke="#111" stroke-width="0.2" text-anchor="middle" textLength="17" lengthAdjust="spacingAndGlyphs">Time</text>
<polyline points="231.50,478.00 232.63,478.00 232.63,479.93 233.77,479.93 233.77,481.87 234.90,481.87 234.90,483.80 236.35,483.80 236.35,485.25 237.80,485.25 237.80,486.70 238.23,486.70 238.23,488.43 238.65,488.43 238.65,490.15 239.07,490.15 239.07,491.88 239.50,491.88 239.50,493.60 240.95,493.60 240.95,495.35 242.40,495.35 242.40,497.10 243.17,497.10 243.17,498.63 243.93,498.63 243.93,500.17 244.70,500.17 244.70,501.70 246.15,501.70 246.15,503.70 247.60,503.70 247.60,505.70 249.35,505.70 249.35,506.85 251.10,506.85 251.10,508.00 252.80,508.00 252.80,509.15 254.50,509.15 254.50,510.30 256.25,510.30 256.25,511.75 258.00,511.75 258.00,513.20 259.75,513.20 259.75,514.35 261.50,514.35 261.50,515.50 263.20,515.50 263.20,516.95 264.90,516.95 264.90,518.40 266.65,518.40 266.65,519.85 268.40,519.85 268.40,521.30 269.93,521.30 269.93,522.27 271.47,522.27 271.47,523.23 273.00,523.23 273.00,524.20 274.53,524.20 274.53,524.97 276.07,524.97 276.07,525.73 277.60,525.73 277.60,526.50 282.00,526.80 283.75,526.80 283.75,527.45 285.50,527.45 285.50,528.10 287.20,528.10 287.20,528.95 288.90,528.95 288.90,529.80 291.20,529.80 291.20,531.00 292.73,531.00 292.73,531.17 294.27,531.17 294.27,531.33 295.80,531.33 295.80,531.50 298.20,531.50 298.20,533.80 299.73,533.80 299.73,534.20 301.27,534.20 301.27,534.60 302.80,534.60 302.80,535.00 304.50,535.00 304.50,535.60 306.20,535.60 306.20,536.20 314.30,536.20 315.50,536.20 315.50,537.90 327.00,537.90 328.75,537.90 328.75,538.45 330.50,538.45 330.50,539.00 332.40,539.00 332.40,539.40 334.30,539.40 334.30,539.80 336.20,539.80 336.20,540.20 340.30,540.50" fill="none" stroke="#1f2b4d" stroke-width="1.7" stroke-linejoin="miter" stroke-linecap="square"/>
<line x1="340.30" y1="539.20" x2="340.30" y2="541.80" stroke="#1f2b4d" stroke-width="1.0"/>
<polyline points="231.50,478.00 232.35,478.00 232.35,479.75 233.20,479.75 233.20,481.50 233.77,481.50 233.77,483.23 234.33,483.23 234.33,484.97 234.90,484.97 234.90,486.70 235.14,486.70 235.14,488.32 235.38,488.32 235.38,489.94 235.62,489.94 235.62,491.56 235.86,491.56 235.86,493.18 236.10,493.18 236.10,494.80 236.25,494.80 236.25,496.52 236.40,496.52 236.40,498.25 236.55,498.25 236.55,499.98 236.70,499.98 236.70,501.70 237.07,501.70 237.07,503.23 237.43,503.23 237.43,504.77 237.80,504.77 237.80,506.30 238.65,506.30 238.65,508.05 239.50,508.05 239.50,509.80 240.65,509.80 240.65,511.80 241.80,511.80 241.80,513.80 243.85,513.80 243.85,514.10 245.90,514.10 245.90,514.40 246.45,514.40 246.45,516.10 247.00,516.10 247.00,517.80 248.15,517.80 248.15,519.25 249.30,519.25 249.30,520.70 250.50,520.70 250.50,522.75 251.70,522.75 251.70,524.80 253.70,524.80 253.70,525.05 255.70,525.05 255.70,525.30 256.07,525.30 256.07,527.03 256.43,527.03 256.43,528.77 256.80,528.77 256.80,530.50 259.20,530.50 259.20,531.70 260.05,531.70 260.05,533.15 260.90,533.15 260.90,534.60 262.90,534.60 262.90,535.15 264.90,535.15 264.90,535.70 266.05,535.70 266.05,537.75 267.20,537.75 267.20,539.80 268.94,539.80 268.94,539.86 270.68,539.86 270.68,539.92 272.41,539.92 272.41,539.99 274.15,539.99 274.15,540.05 275.89,540.05 275.89,540.11 277.62,540.11 277.62,540.17 279.36,540.17 279.36,540.24 281.10,540.24 281.10,540.30 281.70,540.30 281.70,542.60 325.30,542.60" fill="none" stroke="#7e0d2c" stroke-width="1.7" stroke-linejoin="miter" stroke-linecap="square"/>
<line x1="325.30" y1="541.30" x2="325.30" y2="543.90" stroke="#7e0d2c" stroke-width="1.0"/>
<line x1="309.30" y1="541.30" x2="309.30" y2="543.90" stroke="#7e0d2c" stroke-width="1.0"/>
<line x1="293.30" y1="541.30" x2="293.30" y2="543.90" stroke="#7e0d2c" stroke-width="1.0"/>
<text x="260.30" y="504.00" font-size="6.8" font-family="Liberation Serif, serif" fill="#2a2a2a" stroke="#2a2a2a" stroke-width="0.12" textLength="34.7" lengthAdjust="spacingAndGlyphs">19.3 months</text>
<text x="231.50" y="541.60" font-size="6.8" font-family="Liberation Serif, serif" fill="#2a2a2a" stroke="#2a2a2a" stroke-width="0.12" textLength="31.7" lengthAdjust="spacingAndGlyphs">8.5 months</text>
<text x="226.00" y="585.70" font-size="7.2" font-family="Liberation Sans, sans-serif" fill="#111" stroke="#111" stroke-width="0.2" textLength="51" lengthAdjust="spacingAndGlyphs">Number at risk</text>
<text transform="translate(189.10,595.60) rotate(-90)" font-size="9.9" font-family="Liberation Sans, sans-serif" fill="#111" stroke="#111" stroke-width="0.2" text-anchor="middle" textLength="20" lengthAdjust="spacingAndGlyphs">Strata</text>
<text x="218.60" y="593.00" font-size="6.8" font-family="Liberation Sans, sans-serif" fill="#3d5a88" stroke="#3d5a88" stroke-width="0.2" text-anchor="end" textLength="22.8" lengthAdjust="spacingAndGlyphs">Mut=0</text>
<text x="218.60" y="599.40" font-size="6.8" font-family="Liberation Sans, sans-serif" fill="#8a2848" stroke="#8a2848" stroke-width="0.2" text-anchor="end" textLength="22.8" lengthAdjust="spacingAndGlyphs">Mut=1</text>
<line x1="222.00" y1="591.60" x2="226.00" y2="591.60" stroke="#000" stroke-width="1.1"/>
<line x1="222.00" y1="597.60" x2="226.00" y2="597.60" stroke="#000" stroke-width="1.1"/>
<line x1="226.00" y1="587.80" x2="226.00" y2="602.40" stroke="#000" stroke-width="1.5"/>
<line x1="225.30" y1="601.70" x2="340.60" y2="601.70" stroke="#000" stroke-width="1.5"/>
<line x1="230.60" y1="601.70" x2="230.60" y2="605.20" stroke="#000" stroke-width="1.1"/>
<text x="230.60" y="614.30" font-size="7.4" font-family="Liberation Sans, sans-serif" fill="#111" stroke="#111" stroke-width="0.2" text-anchor="middle">0</text>
<text x="232.20" y="592.70" font-size="7.2" font-family="Liberation Sans, sans-serif" fill="#111" stroke="#111" stroke-width="0.2" text-anchor="middle">138</text>
<text x="232.20" y="599.10" font-size="7.2" font-family="Liberation Sans, sans-serif" fill="#111" stroke="#111" stroke-width="0.2" text-anchor="middle">33</text>
<line x1="256.75" y1="601.70" x2="256.75" y2="605.20" stroke="#000" stroke-width="1.1"/>
<text x="256.75" y="614.30" font-size="7.4" font-family="Liberation Sans, sans-serif" fill="#111" stroke="#111" stroke-width="0.2" text-anchor="middle">20</text>
<text x="256.75" y="592.70" font-size="7.2" font-family="Liberation Sans, sans-serif" fill="#111" stroke="#111" stroke-width="0.2" text-anchor="middle">64</text>
<text x="256.75" y="599.10" font-size="7.2" font-family="Liberation Sans, sans-serif" fill="#111" stroke="#111" stroke-width="0.2" text-anchor="middle">9</text>
<line x1="282.90" y1="601.70" x2="282.90" y2="605.20" stroke="#000" stroke-width="1.1"/>
<text x="282.90" y="614.30" font-size="7.4" font-family="Liberation Sans, sans-serif" fill="#111" stroke="#111" stroke-width="0.2" text-anchor="middle">40</text>
<text x="282.90" y="592.70" font-size="7.2" font-family="Liberation Sans, sans-serif" fill="#111" stroke="#111" stroke-width="0.2" text-anchor="middle">27</text>
<text x="282.90" y="599.10" font-size="7.2" font-family="Liberation Sans, sans-serif" fill="#111" stroke="#111" stroke-width="0.2" text-anchor="middle">2</text>
<line x1="309.05" y1="601.70" x2="309.05" y2="605.20" stroke="#000" stroke-width="1.1"/>
<text x="309.05" y="614.30" font-size="7.4" font-family="Liberation Sans, sans-serif" fill="#111" stroke="#111" stroke-width="0.2" text-anchor="middle">60</text>
<text x="309.05" y="592.70" font-size="7.2" font-family="Liberation Sans, sans-serif" fill="#111" stroke="#111" stroke-width="0.2" text-anchor="middle">12</text>
<text x="309.05" y="599.10" font-size="7.2" font-family="Liberation Sans, sans-serif" fill="#111" stroke="#111" stroke-width="0.2" text-anchor="middle">1</text>
<line x1="335.20" y1="601.70" x2="335.20" y2="605.20" stroke="#000" stroke-width="1.1"/>
<text x="335.20" y="614.30" font-size="7.4" font-family="Liberation Sans, sans-serif" fill="#111" stroke="#111" stroke-width="0.2" text-anchor="middle">80</text>
<text x="335.20" y="592.70" font-size="7.2" font-family="Liberation Sans, sans-serif" fill="#111" stroke="#111" stroke-width="0.2" text-anchor="middle">5</text>
<text x="335.20" y="599.10" font-size="7.2" font-family="Liberation Sans, sans-serif" fill="#111" stroke="#111" stroke-width="0.2" text-anchor="middle">0</text>
<text x="283.00" y="627.10" font-size="9.9" font-family="Liberation Sans, sans-serif" fill="#111" stroke="#111" stroke-width="0.2" text-anchor="middle" textLength="17" lengthAdjust="spacingAndGlyphs">Time</text>
<text x="282.60" y="638.10" font-size="9.0" font-family="Liberation Sans, sans-serif" fill="#000" stroke="#000" stroke-width="0.12" text-anchor="middle" font-weight="bold" textLength="40" lengthAdjust="spacingAndGlyphs">p=0.002</text>
<text x="454.40" y="459.80" font-size="10" font-family="Liberation Sans, sans-serif" fill="#111" stroke="#111" stroke-width="0.2" text-anchor="middle" font-weight="bold" font-style="italic" textLength="30.3" lengthAdjust="spacingAndGlyphs">SF3B1</text>
<text x="411.30" y="472.70" font-size="5.9" font-family="Liberation Sans, sans-serif" fill="#222" stroke="#222" stroke-width="0.18" textLength="16.2" lengthAdjust="spacingAndGlyphs">Strata</text>
<line x1="435.20" y1="470.60" x2="442.40" y2="470.60" stroke="#1f2b4d" stroke-width="1.2"/>
<line x1="438.80" y1="469.40" x2="438.80" y2="471.80" stroke="#1f2b4d" stroke-width="1.0"/>
<text x="444.20" y="472.70" font-size="5.9" font-family="Liberation Sans, sans-serif" fill="#222" stroke="#222" stroke-width="0.18" textLength="19.6" lengthAdjust="spacingAndGlyphs">Mut=0</text>
<line x1="467.20" y1="470.60" x2="474.50" y2="470.60" stroke="#7e0d2c" stroke-width="1.2"/>
<line x1="470.80" y1="469.40" x2="470.80" y2="471.80" stroke="#7e0d2c" stroke-width="1.0"/>
<text x="476.30" y="472.70" font-size="5.9" font-family="Liberation Sans, sans-serif" fill="#222" stroke="#222" stroke-width="0.18" textLength="18.6" lengthAdjust="spacingAndGlyphs">Mut=1</text>
<text transform="translate(368.80,512.00) rotate(-90)" font-size="9.6" font-family="Liberation Sans, sans-serif" fill="#111" stroke="#111" stroke-width="0.3" text-anchor="middle" textLength="68" lengthAdjust="spacingAndGlyphs">Survival probability</text>
<text x="389.80" y="479.30" font-size="7.6" font-family="Liberation Sans, sans-serif" fill="#111" stroke="#111" stroke-width="0.2" text-anchor="end" textLength="14.6" lengthAdjust="spacingAndGlyphs">1.00</text>
<line x1="393.80" y1="477.30" x2="397.20" y2="477.30" stroke="#000" stroke-width="1.1"/>
<text x="389.80" y="496.65" font-size="7.6" font-family="Liberation Sans, sans-serif" fill="#111" stroke="#111" stroke-width="0.2" text-anchor="end" textLength="14.6" lengthAdjust="spacingAndGlyphs">0.75</text>
<line x1="393.80" y1="494.65" x2="397.20" y2="494.65" stroke="#000" stroke-width="1.1"/>
<text x="389.80" y="514.00" font-size="7.6" font-family="Liberation Sans, sans-serif" fill="#111" stroke="#111" stroke-width="0.2" text-anchor="end" textLength="14.6" lengthAdjust="spacingAndGlyphs">0.50</text>
<line x1="393.80" y1="512.00" x2="397.20" y2="512.00" stroke="#000" stroke-width="1.1"/>
<text x="389.80" y="531.35" font-size="7.6" font-family="Liberation Sans, sans-serif" fill="#111" stroke="#111" stroke-width="0.2" text-anchor="end" textLength="14.6" lengthAdjust="spacingAndGlyphs">0.25</text>
<line x1="393.80" y1="529.35" x2="397.20" y2="529.35" stroke="#000" stroke-width="1.1"/>
<text x="389.80" y="548.70" font-size="7.6" font-family="Liberation Sans, sans-serif" fill="#111" stroke="#111" stroke-width="0.2" text-anchor="end" textLength="14.6" lengthAdjust="spacingAndGlyphs">0.00</text>
<line x1="393.80" y1="546.70" x2="397.20" y2="546.70" stroke="#000" stroke-width="1.1"/>
<line x1="397.00" y1="474.00" x2="397.00" y2="550.70" stroke="#000" stroke-width="1.5"/>
<line x1="396.30" y1="550.00" x2="511.20" y2="550.00" stroke="#000" stroke-width="1.5"/>
<line x1="401.60" y1="550.00" x2="401.60" y2="553.60" stroke="#000" stroke-width="1.1"/>
<text x="401.60" y="562.90" font-size="7.4" font-family="Liberation Sans, sans-serif" fill="#111" stroke="#111" stroke-width="0.2" text-anchor="middle">0</text>
<line x1="427.75" y1="550.00" x2="427.75" y2="553.60" stroke="#000" stroke-width="1.1"/>
<text x="427.75" y="562.90" font-size="7.4" font-family="Liberation Sans, sans-serif" fill="#111" stroke="#111" stroke-width="0.2" text-anchor="middle">20</text>
<line x1="453.90" y1="550.00" x2="453.90" y2="553.60" stroke="#000" stroke-width="1.1"/>
<text x="453.90" y="562.90" font-size="7.4" font-family="Liberation Sans, sans-serif" fill="#111" stroke="#111" stroke-width="0.2" text-anchor="middle">40</text>
<line x1="480.05" y1="550.00" x2="480.05" y2="553.60" stroke="#000" stroke-width="1.1"/>
<text x="480.05" y="562.90" font-size="7.4" font-family="Liberation Sans, sans-serif" fill="#111" stroke="#111" stroke-width="0.2" text-anchor="middle">60</text>
<line x1="506.20" y1="550.00" x2="506.20" y2="553.60" stroke="#000" stroke-width="1.1"/>
<text x="506.20" y="562.90" font-size="7.4" font-family="Liberation Sans, sans-serif" fill="#111" stroke="#111" stroke-width="0.2" text-anchor="middle">80</text>
<text x="454.00" y="575.10" font-size="9.9" font-family="Liberation Sans, sans-serif" fill="#111" stroke="#111" stroke-width="0.2" text-anchor="middle" textLength="17" lengthAdjust="spacingAndGlyphs">Time</text>
<polyline points="402.50,477.50 403.43,477.50 403.43,479.40 404.37,479.40 404.37,481.30 405.30,481.30 405.30,483.20 406.50,483.20 406.50,484.65 407.70,484.65 407.70,486.10 408.55,486.10 408.55,488.15 409.40,488.15 409.40,490.20 409.97,490.20 409.97,491.73 410.53,491.73 410.53,493.27 411.10,493.27 411.10,494.80 412.25,494.80 412.25,496.80 413.40,496.80 413.40,498.80 414.85,498.80 414.85,500.55 416.30,500.55 416.30,502.30 418.05,502.30 418.05,504.00 419.80,504.00 419.80,505.70 421.50,505.70 421.50,507.15 423.20,507.15 423.20,508.60 424.95,508.60 424.95,509.75 426.70,509.75 426.70,510.90 428.15,510.90 428.15,512.65 429.60,512.65 429.60,514.40 431.05,514.40 431.05,515.55 432.50,515.55 432.50,516.70 434.20,516.70 434.20,518.15 435.90,518.15 435.90,519.60 437.65,519.60 437.65,521.30 439.40,521.30 439.40,523.00 441.10,523.00 441.10,524.15 442.80,524.15 442.80,525.30 444.37,525.30 444.37,525.90 445.93,525.90 445.93,526.50 447.50,526.50 447.50,527.10 449.03,527.10 449.03,527.47 450.57,527.47 450.57,527.83 452.10,527.83 452.10,528.20 453.55,528.20 453.55,528.45 455.00,528.45 455.00,528.70 456.53,528.70 456.53,529.27 458.07,529.27 458.07,529.83 459.60,529.83 459.60,530.40 461.65,530.40 461.65,531.85 463.70,531.85 463.70,533.30 465.70,533.30 465.70,533.45 467.70,533.45 467.70,533.60 469.45,533.60 469.45,534.60 471.20,534.60 471.20,535.60 473.10,535.60 473.10,536.10 475.00,536.10 475.00,536.60 476.90,536.60 476.90,537.10 485.00,537.10 486.20,537.10 486.20,538.50 496.50,538.50 498.80,538.50 498.80,539.40 500.37,539.40 500.37,539.53 501.93,539.53 501.93,539.67 503.50,539.67 503.50,539.80 505.80,539.80 505.80,540.50 511.00,540.80" fill="none" stroke="#1f2b4d" stroke-width="1.7" stroke-linejoin="miter" stroke-linecap="square"/>
<line x1="511.00" y1="539.50" x2="511.00" y2="542.10" stroke="#1f2b4d" stroke-width="1.0"/>
<polyline points="402.50,477.50 403.07,477.50 403.07,479.23 403.63,479.23 403.63,480.97 404.20,480.97 404.20,482.70 405.05,482.70 405.05,484.10 405.90,484.10 405.90,485.50 406.10,485.50 406.10,487.43 406.30,487.43 406.30,489.37 406.50,489.37 406.50,491.30 406.90,491.30 406.90,493.23 407.30,493.23 407.30,495.17 407.70,495.17 407.70,497.10 407.98,497.10 407.98,498.83 408.25,498.83 408.25,500.55 408.52,500.55 408.52,502.27 408.80,502.27 408.80,504.00 410.50,504.00 410.50,504.60 411.10,504.60 411.10,506.05 411.70,506.05 411.70,507.50 412.55,507.50 412.55,509.20 413.40,509.20 413.40,510.90 413.85,510.90 413.85,512.62 414.30,512.62 414.30,514.35 414.75,514.35 414.75,516.07 415.20,516.07 415.20,517.80 415.77,517.80 415.77,519.37 416.33,519.37 416.33,520.93 416.90,520.93 416.90,522.50 417.47,522.50 417.47,524.23 418.03,524.23 418.03,525.97 418.60,525.97 418.60,527.70 422.70,527.70 423.25,527.70 423.25,529.10 423.80,529.10 423.80,530.50 425.73,530.50 425.73,530.70 427.67,530.70 427.67,530.90 429.60,530.90 429.60,531.10 430.70,531.10 430.70,533.40 438.20,533.40 438.50,533.40 438.50,535.15 438.80,535.15 438.80,536.90 440.00,536.90 440.00,538.00 440.25,538.00 440.25,539.65 440.50,539.65 440.50,541.30 486.70,541.30" fill="none" stroke="#7e0d2c" stroke-width="1.7" stroke-linejoin="miter" stroke-linecap="square"/>
<line x1="486.70" y1="540.00" x2="486.70" y2="542.60" stroke="#7e0d2c" stroke-width="1.0"/>
<line x1="470.70" y1="540.00" x2="470.70" y2="542.60" stroke="#7e0d2c" stroke-width="1.0"/>
<line x1="454.70" y1="540.00" x2="454.70" y2="542.60" stroke="#7e0d2c" stroke-width="1.0"/>
<text x="438.60" y="508.90" font-size="6.8" font-family="Liberation Serif, serif" fill="#2a2a2a" stroke="#2a2a2a" stroke-width="0.12" textLength="34.7" lengthAdjust="spacingAndGlyphs">19.3 months</text>
<text x="402.50" y="542.10" font-size="6.8" font-family="Liberation Serif, serif" fill="#2a2a2a" stroke="#2a2a2a" stroke-width="0.12" textLength="31.7" lengthAdjust="spacingAndGlyphs">8.8 months</text>
<text x="397.00" y="585.70" font-size="7.2" font-family="Liberation Sans, sans-serif" fill="#111" stroke="#111" stroke-width="0.2" textLength="51" lengthAdjust="spacingAndGlyphs">Number at risk</text>
<text transform="translate(360.10,595.60) rotate(-90)" font-size="9.9" font-family="Liberation Sans, sans-serif" fill="#111" stroke="#111" stroke-width="0.2" text-anchor="middle" textLength="20" lengthAdjust="spacingAndGlyphs">Strata</text>
<text x="389.60" y="593.00" font-size="6.8" font-family="Liberation Sans, sans-serif" fill="#3d5a88" stroke="#3d5a88" stroke-width="0.2" text-anchor="end" textLength="22.8" lengthAdjust="spacingAndGlyphs">Mut=0</text>
<text x="389.60" y="599.40" font-size="6.8" font-family="Liberation Sans, sans-serif" fill="#8a2848" stroke="#8a2848" stroke-width="0.2" text-anchor="end" textLength="22.8" lengthAdjust="spacingAndGlyphs">Mut=1</text>
<line x1="393.00" y1="591.60" x2="397.00" y2="591.60" stroke="#000" stroke-width="1.1"/>
<line x1="393.00" y1="597.60" x2="397.00" y2="597.60" stroke="#000" stroke-width="1.1"/>
<line x1="397.00" y1="587.80" x2="397.00" y2="602.40" stroke="#000" stroke-width="1.5"/>
<line x1="396.30" y1="601.70" x2="511.60" y2="601.70" stroke="#000" stroke-width="1.5"/>
<line x1="401.60" y1="601.70" x2="401.60" y2="605.20" stroke="#000" stroke-width="1.1"/>
<text x="401.60" y="614.30" font-size="7.4" font-family="Liberation Sans, sans-serif" fill="#111" stroke="#111" stroke-width="0.2" text-anchor="middle">0</text>
<text x="403.20" y="592.70" font-size="7.2" font-family="Liberation Sans, sans-serif" fill="#111" stroke="#111" stroke-width="0.2" text-anchor="middle">160</text>
<text x="403.20" y="599.10" font-size="7.2" font-family="Liberation Sans, sans-serif" fill="#111" stroke="#111" stroke-width="0.2" text-anchor="middle">26</text>
<line x1="427.75" y1="601.70" x2="427.75" y2="605.20" stroke="#000" stroke-width="1.1"/>
<text x="427.75" y="614.30" font-size="7.4" font-family="Liberation Sans, sans-serif" fill="#111" stroke="#111" stroke-width="0.2" text-anchor="middle">20</text>
<text x="427.75" y="592.70" font-size="7.2" font-family="Liberation Sans, sans-serif" fill="#111" stroke="#111" stroke-width="0.2" text-anchor="middle">74</text>
<text x="427.75" y="599.10" font-size="7.2" font-family="Liberation Sans, sans-serif" fill="#111" stroke="#111" stroke-width="0.2" text-anchor="middle">6</text>
<line x1="453.90" y1="601.70" x2="453.90" y2="605.20" stroke="#000" stroke-width="1.1"/>
<text x="453.90" y="614.30" font-size="7.4" font-family="Liberation Sans, sans-serif" fill="#111" stroke="#111" stroke-width="0.2" text-anchor="middle">40</text>
<text x="453.90" y="592.70" font-size="7.2" font-family="Liberation Sans, sans-serif" fill="#111" stroke="#111" stroke-width="0.2" text-anchor="middle">30</text>
<text x="453.90" y="599.10" font-size="7.2" font-family="Liberation Sans, sans-serif" fill="#111" stroke="#111" stroke-width="0.2" text-anchor="middle">1</text>
<line x1="480.05" y1="601.70" x2="480.05" y2="605.20" stroke="#000" stroke-width="1.1"/>
<text x="480.05" y="614.30" font-size="7.4" font-family="Liberation Sans, sans-serif" fill="#111" stroke="#111" stroke-width="0.2" text-anchor="middle">60</text>
<text x="480.05" y="592.70" font-size="7.2" font-family="Liberation Sans, sans-serif" fill="#111" stroke="#111" stroke-width="0.2" text-anchor="middle">13</text>
<text x="480.05" y="599.10" font-size="7.2" font-family="Liberation Sans, sans-serif" fill="#111" stroke="#111" stroke-width="0.2" text-anchor="middle">1</text>
<line x1="506.20" y1="601.70" x2="506.20" y2="605.20" stroke="#000" stroke-width="1.1"/>
<text x="506.20" y="614.30" font-size="7.4" font-family="Liberation Sans, sans-serif" fill="#111" stroke="#111" stroke-width="0.2" text-anchor="middle">80</text>
<text x="506.20" y="592.70" font-size="7.2" font-family="Liberation Sans, sans-serif" fill="#111" stroke="#111" stroke-width="0.2" text-anchor="middle">6</text>
<text x="506.20" y="599.10" font-size="7.2" font-family="Liberation Sans, sans-serif" fill="#111" stroke="#111" stroke-width="0.2" text-anchor="middle">0</text>
<text x="454.00" y="627.10" font-size="9.9" font-family="Liberation Sans, sans-serif" fill="#111" stroke="#111" stroke-width="0.2" text-anchor="middle" textLength="17" lengthAdjust="spacingAndGlyphs">Time</text>
<text x="453.60" y="638.10" font-size="9.0" font-family="Liberation Sans, sans-serif" fill="#000" stroke="#000" stroke-width="0.12" text-anchor="middle" font-weight="bold" textLength="40" lengthAdjust="spacingAndGlyphs">p=0.007</text>
<text x="112.40" y="658.90" font-size="10" font-family="Liberation Sans, sans-serif" fill="#111" stroke="#111" stroke-width="0.2" text-anchor="middle" font-weight="bold" font-style="italic" textLength="35.6" lengthAdjust="spacingAndGlyphs">DDX3X</text>
<text x="69.30" y="671.80" font-size="5.9" font-family="Liberation Sans, sans-serif" fill="#222" stroke="#222" stroke-width="0.18" textLength="16.2" lengthAdjust="spacingAndGlyphs">Strata</text>
<line x1="93.20" y1="669.70" x2="100.40" y2="669.70" stroke="#1f2b4d" stroke-width="1.2"/>
<line x1="96.80" y1="668.50" x2="96.80" y2="670.90" stroke="#1f2b4d" stroke-width="1.0"/>
<text x="102.20" y="671.80" font-size="5.9" font-family="Liberation Sans, sans-serif" fill="#222" stroke="#222" stroke-width="0.18" textLength="19.6" lengthAdjust="spacingAndGlyphs">Mut=0</text>
<line x1="125.20" y1="669.70" x2="132.50" y2="669.70" stroke="#7e0d2c" stroke-width="1.2"/>
<line x1="128.80" y1="668.50" x2="128.80" y2="670.90" stroke="#7e0d2c" stroke-width="1.0"/>
<text x="134.30" y="671.80" font-size="5.9" font-family="Liberation Sans, sans-serif" fill="#222" stroke="#222" stroke-width="0.18" textLength="18.6" lengthAdjust="spacingAndGlyphs">Mut=1</text>
<text transform="translate(26.80,711.50) rotate(-90)" font-size="9.6" font-family="Liberation Sans, sans-serif" fill="#111" stroke="#111" stroke-width="0.3" text-anchor="middle" textLength="68" lengthAdjust="spacingAndGlyphs">Survival probability</text>
<text x="47.80" y="678.80" font-size="7.6" font-family="Liberation Sans, sans-serif" fill="#111" stroke="#111" stroke-width="0.2" text-anchor="end" textLength="14.6" lengthAdjust="spacingAndGlyphs">1.00</text>
<line x1="51.80" y1="676.80" x2="55.20" y2="676.80" stroke="#000" stroke-width="1.1"/>
<text x="47.80" y="696.15" font-size="7.6" font-family="Liberation Sans, sans-serif" fill="#111" stroke="#111" stroke-width="0.2" text-anchor="end" textLength="14.6" lengthAdjust="spacingAndGlyphs">0.75</text>
<line x1="51.80" y1="694.15" x2="55.20" y2="694.15" stroke="#000" stroke-width="1.1"/>
<text x="47.80" y="713.50" font-size="7.6" font-family="Liberation Sans, sans-serif" fill="#111" stroke="#111" stroke-width="0.2" text-anchor="end" textLength="14.6" lengthAdjust="spacingAndGlyphs">0.50</text>
<line x1="51.80" y1="711.50" x2="55.20" y2="711.50" stroke="#000" stroke-width="1.1"/>
<text x="47.80" y="730.85" font-size="7.6" font-family="Liberation Sans, sans-serif" fill="#111" stroke="#111" stroke-width="0.2" text-anchor="end" textLength="14.6" lengthAdjust="spacingAndGlyphs">0.25</text>
<line x1="51.80" y1="728.85" x2="55.20" y2="728.85" stroke="#000" stroke-width="1.1"/>
<text x="47.80" y="748.20" font-size="7.6" font-family="Liberation Sans, sans-serif" fill="#111" stroke="#111" stroke-width="0.2" text-anchor="end" textLength="14.6" lengthAdjust="spacingAndGlyphs">0.00</text>
<line x1="51.80" y1="746.20" x2="55.20" y2="746.20" stroke="#000" stroke-width="1.1"/>
<line x1="55.00" y1="673.50" x2="55.00" y2="750.20" stroke="#000" stroke-width="1.5"/>
<line x1="54.30" y1="749.50" x2="169.20" y2="749.50" stroke="#000" stroke-width="1.5"/>
<line x1="59.60" y1="749.50" x2="59.60" y2="753.10" stroke="#000" stroke-width="1.1"/>
<text x="59.60" y="762.40" font-size="7.4" font-family="Liberation Sans, sans-serif" fill="#111" stroke="#111" stroke-width="0.2" text-anchor="middle">0</text>
<line x1="85.75" y1="749.50" x2="85.75" y2="753.10" stroke="#000" stroke-width="1.1"/>
<text x="85.75" y="762.40" font-size="7.4" font-family="Liberation Sans, sans-serif" fill="#111" stroke="#111" stroke-width="0.2" text-anchor="middle">20</text>
<line x1="111.90" y1="749.50" x2="111.90" y2="753.10" stroke="#000" stroke-width="1.1"/>
<text x="111.90" y="762.40" font-size="7.4" font-family="Liberation Sans, sans-serif" fill="#111" stroke="#111" stroke-width="0.2" text-anchor="middle">40</text>
<line x1="138.05" y1="749.50" x2="138.05" y2="753.10" stroke="#000" stroke-width="1.1"/>
<text x="138.05" y="762.40" font-size="7.4" font-family="Liberation Sans, sans-serif" fill="#111" stroke="#111" stroke-width="0.2" text-anchor="middle">60</text>
<line x1="164.20" y1="749.50" x2="164.20" y2="753.10" stroke="#000" stroke-width="1.1"/>
<text x="164.20" y="762.40" font-size="7.4" font-family="Liberation Sans, sans-serif" fill="#111" stroke="#111" stroke-width="0.2" text-anchor="middle">80</text>
<text x="112.00" y="774.60" font-size="9.9" font-family="Liberation Sans, sans-serif" fill="#111" stroke="#111" stroke-width="0.2" text-anchor="middle" textLength="17" lengthAdjust="spacingAndGlyphs">Time</text>
<polyline points="60.40,676.90 61.23,676.90 61.23,678.87 62.07,678.87 62.07,680.83 62.90,680.83 62.90,682.80 63.87,682.80 63.87,684.77 64.83,684.77 64.83,686.73 65.80,686.73 65.80,688.70 66.80,688.70 66.80,690.67 67.80,690.67 67.80,692.63 68.80,692.63 68.80,694.60 69.77,694.60 69.77,696.23 70.73,696.23 70.73,697.87 71.70,697.87 71.70,699.50 73.20,699.50 73.20,701.45 74.70,701.45 74.70,703.40 76.15,703.40 76.15,705.35 77.60,705.35 77.60,707.30 79.23,707.30 79.23,708.30 80.87,708.30 80.87,709.30 82.50,709.30 82.50,710.30 84.13,710.30 84.13,711.60 85.77,711.60 85.77,712.90 87.40,712.90 87.40,714.20 88.93,714.20 88.93,716.03 90.47,716.03 90.47,717.87 92.00,717.87 92.00,719.70 93.90,719.70 93.90,721.25 95.80,721.25 95.80,722.80 97.35,722.80 97.35,724.70 98.90,724.70 98.90,726.60 100.70,726.60 100.70,727.13 102.50,727.13 102.50,727.67 104.30,727.67 104.30,728.20 106.37,728.20 106.37,728.70 108.43,728.70 108.43,729.20 110.50,729.20 110.50,729.70 112.53,729.70 112.53,730.20 114.57,730.20 114.57,730.70 116.60,730.70 116.60,731.20 118.67,731.20 118.67,731.97 120.73,731.97 120.73,732.73 122.80,732.73 122.80,733.50 124.83,733.50 124.83,734.27 126.87,734.27 126.87,735.03 128.90,735.03 128.90,735.80 130.82,735.80 130.82,736.07 132.75,736.07 132.75,736.35 134.68,736.35 134.68,736.62 136.60,736.62 136.60,736.90 138.53,736.90 138.53,737.23 140.45,737.23 140.45,737.55 142.38,737.55 142.38,737.88 144.30,737.88 144.30,738.20 146.14,738.20 146.14,738.12 147.98,738.12 147.98,738.04 149.82,738.04 149.82,737.96 151.66,737.96 151.66,737.88 153.50,737.88 153.50,737.80 155.57,737.80 155.57,738.17 157.63,738.17 157.63,738.53 159.70,738.53 159.70,738.90 161.73,738.90 161.73,739.17 163.77,739.17 163.77,739.43 165.80,739.43 165.80,739.70 167.75,739.70 167.75,740.30 169.70,740.30 169.70,740.90" fill="none" stroke="#1f2b4d" stroke-width="1.7" stroke-linejoin="miter" stroke-linecap="square"/>
<line x1="169.70" y1="739.60" x2="169.70" y2="742.20" stroke="#1f2b4d" stroke-width="1.0"/>
<polyline points="60.40,676.90 64.00,676.90 64.00,679.80 64.80,679.80 64.80,680.80 64.80,700.00 67.30,700.00 67.30,711.80 71.20,711.80 71.20,735.40 71.70,735.40 71.70,746.20" fill="none" stroke="#7e0d2c" stroke-width="1.7" stroke-linejoin="miter" stroke-linecap="square"/>
<line x1="71.70" y1="744.90" x2="71.70" y2="747.50" stroke="#7e0d2c" stroke-width="1.0"/>
<text x="83.30" y="703.60" font-size="6.8" font-family="Liberation Serif, serif" fill="#2a2a2a" stroke="#2a2a2a" stroke-width="0.12" textLength="35.4" lengthAdjust="spacingAndGlyphs">18.1 months</text>
<text x="78.90" y="740.50" font-size="6.8" font-family="Liberation Serif, serif" fill="#2a2a2a" stroke="#2a2a2a" stroke-width="0.12" textLength="31.4" lengthAdjust="spacingAndGlyphs">7.0 months</text>
<text x="55.00" y="782.20" font-size="7.2" font-family="Liberation Sans, sans-serif" fill="#111" stroke="#111" stroke-width="0.2" textLength="51" lengthAdjust="spacingAndGlyphs">Number at risk</text>
<text transform="translate(18.10,792.10) rotate(-90)" font-size="9.9" font-family="Liberation Sans, sans-serif" fill="#111" stroke="#111" stroke-width="0.2" text-anchor="middle" textLength="20" lengthAdjust="spacingAndGlyphs">Strata</text>
<text x="47.60" y="789.50" font-size="6.8" font-family="Liberation Sans, sans-serif" fill="#3d5a88" stroke="#3d5a88" stroke-width="0.2" text-anchor="end" textLength="22.8" lengthAdjust="spacingAndGlyphs">Mut=0</text>
<text x="47.60" y="795.90" font-size="6.8" font-family="Liberation Sans, sans-serif" fill="#8a2848" stroke="#8a2848" stroke-width="0.2" text-anchor="end" textLength="22.8" lengthAdjust="spacingAndGlyphs">Mut=1</text>
<line x1="51.00" y1="788.10" x2="55.00" y2="788.10" stroke="#000" stroke-width="1.1"/>
<line x1="51.00" y1="794.10" x2="55.00" y2="794.10" stroke="#000" stroke-width="1.1"/>
<line x1="55.00" y1="784.30" x2="55.00" y2="798.90" stroke="#000" stroke-width="1.5"/>
<line x1="54.30" y1="798.20" x2="169.60" y2="798.20" stroke="#000" stroke-width="1.5"/>
<line x1="59.60" y1="798.20" x2="59.60" y2="801.70" stroke="#000" stroke-width="1.1"/>
<text x="59.60" y="810.80" font-size="7.4" font-family="Liberation Sans, sans-serif" fill="#111" stroke="#111" stroke-width="0.2" text-anchor="middle">0</text>
<text x="61.20" y="789.20" font-size="7.2" font-family="Liberation Sans, sans-serif" fill="#111" stroke="#111" stroke-width="0.2" text-anchor="middle">180</text>
<text x="61.20" y="795.60" font-size="7.2" font-family="Liberation Sans, sans-serif" fill="#111" stroke="#111" stroke-width="0.2" text-anchor="middle">6</text>
<line x1="85.75" y1="798.20" x2="85.75" y2="801.70" stroke="#000" stroke-width="1.1"/>
<text x="85.75" y="810.80" font-size="7.4" font-family="Liberation Sans, sans-serif" fill="#111" stroke="#111" stroke-width="0.2" text-anchor="middle">20</text>
<text x="85.75" y="789.20" font-size="7.2" font-family="Liberation Sans, sans-serif" fill="#111" stroke="#111" stroke-width="0.2" text-anchor="middle">80</text>
<text x="85.75" y="795.60" font-size="7.2" font-family="Liberation Sans, sans-serif" fill="#111" stroke="#111" stroke-width="0.2" text-anchor="middle">0</text>
<line x1="111.90" y1="798.20" x2="111.90" y2="801.70" stroke="#000" stroke-width="1.1"/>
<text x="111.90" y="810.80" font-size="7.4" font-family="Liberation Sans, sans-serif" fill="#111" stroke="#111" stroke-width="0.2" text-anchor="middle">40</text>
<text x="111.90" y="789.20" font-size="7.2" font-family="Liberation Sans, sans-serif" fill="#111" stroke="#111" stroke-width="0.2" text-anchor="middle">31</text>
<text x="111.90" y="795.60" font-size="7.2" font-family="Liberation Sans, sans-serif" fill="#111" stroke="#111" stroke-width="0.2" text-anchor="middle">0</text>
<line x1="138.05" y1="798.20" x2="138.05" y2="801.70" stroke="#000" stroke-width="1.1"/>
<text x="138.05" y="810.80" font-size="7.4" font-family="Liberation Sans, sans-serif" fill="#111" stroke="#111" stroke-width="0.2" text-anchor="middle">60</text>
<text x="138.05" y="789.20" font-size="7.2" font-family="Liberation Sans, sans-serif" fill="#111" stroke="#111" stroke-width="0.2" text-anchor="middle">14</text>
<text x="138.05" y="795.60" font-size="7.2" font-family="Liberation Sans, sans-serif" fill="#111" stroke="#111" stroke-width="0.2" text-anchor="middle">0</text>
<line x1="164.20" y1="798.20" x2="164.20" y2="801.70" stroke="#000" stroke-width="1.1"/>
<text x="164.20" y="810.80" font-size="7.4" font-family="Liberation Sans, sans-serif" fill="#111" stroke="#111" stroke-width="0.2" text-anchor="middle">80</text>
<text x="164.20" y="789.20" font-size="7.2" font-family="Liberation Sans, sans-serif" fill="#111" stroke="#111" stroke-width="0.2" text-anchor="middle">6</text>
<text x="164.20" y="795.60" font-size="7.2" font-family="Liberation Sans, sans-serif" fill="#111" stroke="#111" stroke-width="0.2" text-anchor="middle">0</text>
<text x="111.60" y="824.20" font-size="9.0" font-family="Liberation Sans, sans-serif" fill="#000" stroke="#000" stroke-width="0.12" text-anchor="middle" font-weight="bold" textLength="40" lengthAdjust="spacingAndGlyphs">p=0.001</text>
<text x="283.40" y="658.90" font-size="10" font-family="Liberation Sans, sans-serif" fill="#111" stroke="#111" stroke-width="0.2" text-anchor="middle" font-weight="bold" font-style="italic" textLength="23.6" lengthAdjust="spacingAndGlyphs">TP53</text>
<text x="240.30" y="671.80" font-size="5.9" font-family="Liberation Sans, sans-serif" fill="#222" stroke="#222" stroke-width="0.18" textLength="16.2" lengthAdjust="spacingAndGlyphs">Strata</text>
<line x1="264.20" y1="669.70" x2="271.40" y2="669.70" stroke="#1f2b4d" stroke-width="1.2"/>
<line x1="267.80" y1="668.50" x2="267.80" y2="670.90" stroke="#1f2b4d" stroke-width="1.0"/>
<text x="273.20" y="671.80" font-size="5.9" font-family="Liberation Sans, sans-serif" fill="#222" stroke="#222" stroke-width="0.18" textLength="19.6" lengthAdjust="spacingAndGlyphs">Mut=0</text>
<line x1="296.20" y1="669.70" x2="303.50" y2="669.70" stroke="#7e0d2c" stroke-width="1.2"/>
<line x1="299.80" y1="668.50" x2="299.80" y2="670.90" stroke="#7e0d2c" stroke-width="1.0"/>
<text x="305.30" y="671.80" font-size="5.9" font-family="Liberation Sans, sans-serif" fill="#222" stroke="#222" stroke-width="0.18" textLength="18.6" lengthAdjust="spacingAndGlyphs">Mut=1</text>
<text transform="translate(197.80,711.50) rotate(-90)" font-size="9.6" font-family="Liberation Sans, sans-serif" fill="#111" stroke="#111" stroke-width="0.3" text-anchor="middle" textLength="68" lengthAdjust="spacingAndGlyphs">Survival probability</text>
<text x="218.80" y="678.80" font-size="7.6" font-family="Liberation Sans, sans-serif" fill="#111" stroke="#111" stroke-width="0.2" text-anchor="end" textLength="14.6" lengthAdjust="spacingAndGlyphs">1.00</text>
<line x1="222.80" y1="676.80" x2="226.20" y2="676.80" stroke="#000" stroke-width="1.1"/>
<text x="218.80" y="696.15" font-size="7.6" font-family="Liberation Sans, sans-serif" fill="#111" stroke="#111" stroke-width="0.2" text-anchor="end" textLength="14.6" lengthAdjust="spacingAndGlyphs">0.75</text>
<line x1="222.80" y1="694.15" x2="226.20" y2="694.15" stroke="#000" stroke-width="1.1"/>
<text x="218.80" y="713.50" font-size="7.6" font-family="Liberation Sans, sans-serif" fill="#111" stroke="#111" stroke-width="0.2" text-anchor="end" textLength="14.6" lengthAdjust="spacingAndGlyphs">0.50</text>
<line x1="222.80" y1="711.50" x2="226.20" y2="711.50" stroke="#000" stroke-width="1.1"/>
<text x="218.80" y="730.85" font-size="7.6" font-family="Liberation Sans, sans-serif" fill="#111" stroke="#111" stroke-width="0.2" text-anchor="end" textLength="14.6" lengthAdjust="spacingAndGlyphs">0.25</text>
<line x1="222.80" y1="728.85" x2="226.20" y2="728.85" stroke="#000" stroke-width="1.1"/>
<text x="218.80" y="748.20" font-size="7.6" font-family="Liberation Sans, sans-serif" fill="#111" stroke="#111" stroke-width="0.2" text-anchor="end" textLength="14.6" lengthAdjust="spacingAndGlyphs">0.00</text>
<line x1="222.80" y1="746.20" x2="226.20" y2="746.20" stroke="#000" stroke-width="1.1"/>
<line x1="226.00" y1="673.50" x2="226.00" y2="750.20" stroke="#000" stroke-width="1.5"/>
<line x1="225.30" y1="749.50" x2="340.20" y2="749.50" stroke="#000" stroke-width="1.5"/>
<line x1="230.60" y1="749.50" x2="230.60" y2="753.10" stroke="#000" stroke-width="1.1"/>
<text x="230.60" y="762.40" font-size="7.4" font-family="Liberation Sans, sans-serif" fill="#111" stroke="#111" stroke-width="0.2" text-anchor="middle">0</text>
<line x1="256.75" y1="749.50" x2="256.75" y2="753.10" stroke="#000" stroke-width="1.1"/>
<text x="256.75" y="762.40" font-size="7.4" font-family="Liberation Sans, sans-serif" fill="#111" stroke="#111" stroke-width="0.2" text-anchor="middle">20</text>
<line x1="282.90" y1="749.50" x2="282.90" y2="753.10" stroke="#000" stroke-width="1.1"/>
<text x="282.90" y="762.40" font-size="7.4" font-family="Liberation Sans, sans-serif" fill="#111" stroke="#111" stroke-width="0.2" text-anchor="middle">40</text>
<line x1="309.05" y1="749.50" x2="309.05" y2="753.10" stroke="#000" stroke-width="1.1"/>
<text x="309.05" y="762.40" font-size="7.4" font-family="Liberation Sans, sans-serif" fill="#111" stroke="#111" stroke-width="0.2" text-anchor="middle">60</text>
<line x1="335.20" y1="749.50" x2="335.20" y2="753.10" stroke="#000" stroke-width="1.1"/>
<text x="335.20" y="762.40" font-size="7.4" font-family="Liberation Sans, sans-serif" fill="#111" stroke="#111" stroke-width="0.2" text-anchor="middle">80</text>
<text x="283.00" y="774.60" font-size="9.9" font-family="Liberation Sans, sans-serif" fill="#111" stroke="#111" stroke-width="0.2" text-anchor="middle" textLength="17" lengthAdjust="spacingAndGlyphs">Time</text>
<polyline points="231.50,677.50 232.65,677.50 232.65,679.50 233.80,679.50 233.80,681.50 235.25,681.50 235.25,683.50 236.70,683.50 236.70,685.50 237.47,685.50 237.47,687.43 238.23,687.43 238.23,689.37 239.00,689.37 239.00,691.30 239.93,691.30 239.93,693.03 240.87,693.03 240.87,694.77 241.80,694.77 241.80,696.50 243.25,696.50 243.25,698.50 244.70,698.50 244.70,700.50 246.15,700.50 246.15,702.55 247.60,702.55 247.60,704.60 249.35,704.60 249.35,705.75 251.10,705.75 251.10,706.90 252.80,706.90 252.80,708.05 254.50,708.05 254.50,709.20 256.25,709.20 256.25,710.65 258.00,710.65 258.00,712.10 259.75,712.10 259.75,713.25 261.50,713.25 261.50,714.40 263.20,714.40 263.20,716.40 264.90,716.40 264.90,718.40 266.65,718.40 266.65,720.15 268.40,720.15 268.40,721.90 270.10,721.90 270.10,723.35 271.80,723.35 271.80,724.80 273.37,724.80 273.37,725.37 274.93,725.37 274.93,725.93 276.50,725.93 276.50,726.50 278.33,726.50 278.33,726.83 280.17,726.83 280.17,727.17 282.00,727.17 282.00,727.50 283.53,727.50 283.53,728.07 285.07,728.07 285.07,728.63 286.60,728.63 286.60,729.20 288.53,729.20 288.53,729.97 290.47,729.97 290.47,730.73 292.40,730.73 292.40,731.50 293.93,731.50 293.93,731.70 295.47,731.70 295.47,731.90 297.00,731.90 297.00,732.10 299.30,732.10 299.30,734.40 301.23,734.40 301.23,734.80 303.17,734.80 303.17,735.20 305.10,735.20 305.10,735.60 313.20,735.90 315.50,735.90 315.50,737.50 317.34,737.50 317.34,737.58 319.18,737.58 319.18,737.66 321.02,737.66 321.02,737.74 322.86,737.74 322.86,737.82 324.70,737.82 324.70,737.90 326.63,737.90 326.63,738.10 328.57,738.10 328.57,738.30 330.50,738.30 330.50,738.50 332.03,738.50 332.03,738.80 333.57,738.80 333.57,739.10 335.10,739.10 335.10,739.40 339.70,739.60" fill="none" stroke="#1f2b4d" stroke-width="1.7" stroke-linejoin="miter" stroke-linecap="square"/>
<line x1="339.70" y1="738.30" x2="339.70" y2="740.90" stroke="#1f2b4d" stroke-width="1.0"/>
<polyline points="231.50,677.50 232.07,677.50 232.07,679.40 232.63,679.40 232.63,681.30 233.20,681.30 233.20,683.20 233.40,683.20 233.40,685.13 233.60,685.13 233.60,687.07 233.80,687.07 233.80,689.00 234.23,689.00 234.23,690.73 234.65,690.73 234.65,692.45 235.07,692.45 235.07,694.17 235.50,694.17 235.50,695.90 235.93,695.90 235.93,697.62 236.35,697.62 236.35,699.35 236.77,699.35 236.77,701.07 237.20,701.07 237.20,702.80 237.60,702.80 237.60,704.73 238.00,704.73 238.00,706.67 238.40,706.67 238.40,708.60 238.97,708.60 238.97,710.13 239.53,710.13 239.53,711.67 240.10,711.67 240.10,713.20 241.30,713.20 241.30,715.50 241.67,715.50 241.67,717.07 242.03,717.07 242.03,718.63 242.40,718.63 242.40,720.20 243.00,720.20 243.00,721.90 243.60,721.90 243.60,723.60 247.00,723.60 247.90,723.60 247.90,725.05 248.80,725.05 248.80,726.50 249.65,726.50 249.65,727.95 250.50,727.95 250.50,729.40 251.10,729.40 251.10,730.85 251.70,730.85 251.70,732.30 253.70,732.30 253.70,732.55 255.70,732.55 255.70,732.80 256.55,732.80 256.55,734.85 257.40,734.85 257.40,736.90 267.20,736.90 267.80,736.90 267.80,738.35 268.40,738.35 268.40,739.80 268.95,739.80 268.95,741.50 269.50,741.50 269.50,743.20" fill="none" stroke="#7e0d2c" stroke-width="1.7" stroke-linejoin="miter" stroke-linecap="square"/>
<line x1="269.50" y1="741.90" x2="269.50" y2="744.50" stroke="#7e0d2c" stroke-width="1.0"/>
<text x="267.60" y="710.20" font-size="6.8" font-family="Liberation Serif, serif" fill="#2a2a2a" stroke="#2a2a2a" stroke-width="0.12" textLength="35.4" lengthAdjust="spacingAndGlyphs">18.1 months</text>
<text x="279.10" y="746.00" font-size="6.8" font-family="Liberation Serif, serif" fill="#2a2a2a" stroke="#2a2a2a" stroke-width="0.12" textLength="32" lengthAdjust="spacingAndGlyphs">5.6 months</text>
<text x="226.00" y="782.20" font-size="7.2" font-family="Liberation Sans, sans-serif" fill="#111" stroke="#111" stroke-width="0.2" textLength="51" lengthAdjust="spacingAndGlyphs">Number at risk</text>
<text transform="translate(189.10,792.10) rotate(-90)" font-size="9.9" font-family="Liberation Sans, sans-serif" fill="#111" stroke="#111" stroke-width="0.2" text-anchor="middle" textLength="20" lengthAdjust="spacingAndGlyphs">Strata</text>
<text x="218.60" y="789.50" font-size="6.8" font-family="Liberation Sans, sans-serif" fill="#3d5a88" stroke="#3d5a88" stroke-width="0.2" text-anchor="end" textLength="22.8" lengthAdjust="spacingAndGlyphs">Mut=0</text>
<text x="218.60" y="795.90" font-size="6.8" font-family="Liberation Sans, sans-serif" fill="#8a2848" stroke="#8a2848" stroke-width="0.2" text-anchor="end" textLength="22.8" lengthAdjust="spacingAndGlyphs">Mut=1</text>
<line x1="222.00" y1="788.10" x2="226.00" y2="788.10" stroke="#000" stroke-width="1.1"/>
<line x1="222.00" y1="794.10" x2="226.00" y2="794.10" stroke="#000" stroke-width="1.1"/>
<line x1="226.00" y1="784.30" x2="226.00" y2="798.90" stroke="#000" stroke-width="1.5"/>
<line x1="225.30" y1="798.20" x2="340.60" y2="798.20" stroke="#000" stroke-width="1.5"/>
<line x1="230.60" y1="798.20" x2="230.60" y2="801.70" stroke="#000" stroke-width="1.1"/>
<text x="230.60" y="810.80" font-size="7.4" font-family="Liberation Sans, sans-serif" fill="#111" stroke="#111" stroke-width="0.2" text-anchor="middle">0</text>
<text x="232.20" y="789.20" font-size="7.2" font-family="Liberation Sans, sans-serif" fill="#111" stroke="#111" stroke-width="0.2" text-anchor="middle">153</text>
<text x="232.20" y="795.60" font-size="7.2" font-family="Liberation Sans, sans-serif" fill="#111" stroke="#111" stroke-width="0.2" text-anchor="middle">33</text>
<line x1="256.75" y1="798.20" x2="256.75" y2="801.70" stroke="#000" stroke-width="1.1"/>
<text x="256.75" y="810.80" font-size="7.4" font-family="Liberation Sans, sans-serif" fill="#111" stroke="#111" stroke-width="0.2" text-anchor="middle">20</text>
<text x="256.75" y="789.20" font-size="7.2" font-family="Liberation Sans, sans-serif" fill="#111" stroke="#111" stroke-width="0.2" text-anchor="middle">74</text>
<text x="256.75" y="795.60" font-size="7.2" font-family="Liberation Sans, sans-serif" fill="#111" stroke="#111" stroke-width="0.2" text-anchor="middle">6</text>
<line x1="282.90" y1="798.20" x2="282.90" y2="801.70" stroke="#000" stroke-width="1.1"/>
<text x="282.90" y="810.80" font-size="7.4" font-family="Liberation Sans, sans-serif" fill="#111" stroke="#111" stroke-width="0.2" text-anchor="middle">40</text>
<text x="282.90" y="789.20" font-size="7.2" font-family="Liberation Sans, sans-serif" fill="#111" stroke="#111" stroke-width="0.2" text-anchor="middle">31</text>
<text x="282.90" y="795.60" font-size="7.2" font-family="Liberation Sans, sans-serif" fill="#111" stroke="#111" stroke-width="0.2" text-anchor="middle">0</text>
<line x1="309.05" y1="798.20" x2="309.05" y2="801.70" stroke="#000" stroke-width="1.1"/>
<text x="309.05" y="810.80" font-size="7.4" font-family="Liberation Sans, sans-serif" fill="#111" stroke="#111" stroke-width="0.2" text-anchor="middle">60</text>
<text x="309.05" y="789.20" font-size="7.2" font-family="Liberation Sans, sans-serif" fill="#111" stroke="#111" stroke-width="0.2" text-anchor="middle">14</text>
<text x="309.05" y="795.60" font-size="7.2" font-family="Liberation Sans, sans-serif" fill="#111" stroke="#111" stroke-width="0.2" text-anchor="middle">0</text>
<line x1="335.20" y1="798.20" x2="335.20" y2="801.70" stroke="#000" stroke-width="1.1"/>
<text x="335.20" y="810.80" font-size="7.4" font-family="Liberation Sans, sans-serif" fill="#111" stroke="#111" stroke-width="0.2" text-anchor="middle">80</text>
<text x="335.20" y="789.20" font-size="7.2" font-family="Liberation Sans, sans-serif" fill="#111" stroke="#111" stroke-width="0.2" text-anchor="middle">6</text>
<text x="335.20" y="795.60" font-size="7.2" font-family="Liberation Sans, sans-serif" fill="#111" stroke="#111" stroke-width="0.2" text-anchor="middle">0</text>
<text x="282.60" y="824.20" font-size="9.0" font-family="Liberation Sans, sans-serif" fill="#000" stroke="#000" stroke-width="0.12" text-anchor="middle" font-weight="bold" textLength="45.5" lengthAdjust="spacingAndGlyphs">p=&lt;0.001</text>
<text x="454.40" y="658.90" font-size="10" font-family="Liberation Sans, sans-serif" fill="#111" stroke="#111" stroke-width="0.2" text-anchor="middle" font-weight="bold" font-style="italic" textLength="24.3" lengthAdjust="spacingAndGlyphs">MGA</text>
<text x="411.30" y="671.80" font-size="5.9" font-family="Liberation Sans, sans-serif" fill="#222" stroke="#222" stroke-width="0.18" textLength="16.2" lengthAdjust="spacingAndGlyphs">Strata</text>
<line x1="435.20" y1="669.70" x2="442.40" y2="669.70" stroke="#1f2b4d" stroke-width="1.2"/>
<line x1="438.80" y1="668.50" x2="438.80" y2="670.90" stroke="#1f2b4d" stroke-width="1.0"/>
<text x="444.20" y="671.80" font-size="5.9" font-family="Liberation Sans, sans-serif" fill="#222" stroke="#222" stroke-width="0.18" textLength="19.6" lengthAdjust="spacingAndGlyphs">Mut=0</text>
<line x1="467.20" y1="669.70" x2="474.50" y2="669.70" stroke="#7e0d2c" stroke-width="1.2"/>
<line x1="470.80" y1="668.50" x2="470.80" y2="670.90" stroke="#7e0d2c" stroke-width="1.0"/>
<text x="476.30" y="671.80" font-size="5.9" font-family="Liberation Sans, sans-serif" fill="#222" stroke="#222" stroke-width="0.18" textLength="18.6" lengthAdjust="spacingAndGlyphs">Mut=1</text>
<text transform="translate(368.80,711.50) rotate(-90)" font-size="9.6" font-family="Liberation Sans, sans-serif" fill="#111" stroke="#111" stroke-width="0.3" text-anchor="middle" textLength="68" lengthAdjust="spacingAndGlyphs">Survival probability</text>
<text x="389.80" y="678.80" font-size="7.6" font-family="Liberation Sans, sans-serif" fill="#111" stroke="#111" stroke-width="0.2" text-anchor="end" textLength="14.6" lengthAdjust="spacingAndGlyphs">1.00</text>
<line x1="393.80" y1="676.80" x2="397.20" y2="676.80" stroke="#000" stroke-width="1.1"/>
<text x="389.80" y="696.15" font-size="7.6" font-family="Liberation Sans, sans-serif" fill="#111" stroke="#111" stroke-width="0.2" text-anchor="end" textLength="14.6" lengthAdjust="spacingAndGlyphs">0.75</text>
<line x1="393.80" y1="694.15" x2="397.20" y2="694.15" stroke="#000" stroke-width="1.1"/>
<text x="389.80" y="713.50" font-size="7.6" font-family="Liberation Sans, sans-serif" fill="#111" stroke="#111" stroke-width="0.2" text-anchor="end" textLength="14.6" lengthAdjust="spacingAndGlyphs">0.50</text>
<line x1="393.80" y1="711.50" x2="397.20" y2="711.50" stroke="#000" stroke-width="1.1"/>
<text x="389.80" y="730.85" font-size="7.6" font-family="Liberation Sans, sans-serif" fill="#111" stroke="#111" stroke-width="0.2" text-anchor="end" textLength="14.6" lengthAdjust="spacingAndGlyphs">0.25</text>
<line x1="393.80" y1="728.85" x2="397.20" y2="728.85" stroke="#000" stroke-width="1.1"/>
<text x="389.80" y="748.20" font-size="7.6" font-family="Liberation Sans, sans-serif" fill="#111" stroke="#111" stroke-width="0.2" text-anchor="end" textLength="14.6" lengthAdjust="spacingAndGlyphs">0.00</text>
<line x1="393.80" y1="746.20" x2="397.20" y2="746.20" stroke="#000" stroke-width="1.1"/>
<line x1="397.00" y1="673.50" x2="397.00" y2="750.20" stroke="#000" stroke-width="1.5"/>
<line x1="396.30" y1="749.50" x2="511.20" y2="749.50" stroke="#000" stroke-width="1.5"/>
<line x1="401.60" y1="749.50" x2="401.60" y2="753.10" stroke="#000" stroke-width="1.1"/>
<text x="401.60" y="762.40" font-size="7.4" font-family="Liberation Sans, sans-serif" fill="#111" stroke="#111" stroke-width="0.2" text-anchor="middle">0</text>
<line x1="427.75" y1="749.50" x2="427.75" y2="753.10" stroke="#000" stroke-width="1.1"/>
<text x="427.75" y="762.40" font-size="7.4" font-family="Liberation Sans, sans-serif" fill="#111" stroke="#111" stroke-width="0.2" text-anchor="middle">20</text>
<line x1="453.90" y1="749.50" x2="453.90" y2="753.10" stroke="#000" stroke-width="1.1"/>
<text x="453.90" y="762.40" font-size="7.4" font-family="Liberation Sans, sans-serif" fill="#111" stroke="#111" stroke-width="0.2" text-anchor="middle">40</text>
<line x1="480.05" y1="749.50" x2="480.05" y2="753.10" stroke="#000" stroke-width="1.1"/>
<text x="480.05" y="762.40" font-size="7.4" font-family="Liberation Sans, sans-serif" fill="#111" stroke="#111" stroke-width="0.2" text-anchor="middle">60</text>
<line x1="506.20" y1="749.50" x2="506.20" y2="753.10" stroke="#000" stroke-width="1.1"/>
<text x="506.20" y="762.40" font-size="7.4" font-family="Liberation Sans, sans-serif" fill="#111" stroke="#111" stroke-width="0.2" text-anchor="middle">80</text>
<text x="454.00" y="774.60" font-size="9.9" font-family="Liberation Sans, sans-serif" fill="#111" stroke="#111" stroke-width="0.2" text-anchor="middle" textLength="17" lengthAdjust="spacingAndGlyphs">Time</text>
<polyline points="402.50,677.50 403.43,677.50 403.43,679.23 404.37,679.23 404.37,680.97 405.30,680.97 405.30,682.70 406.27,682.70 406.27,684.23 407.23,684.23 407.23,685.77 408.20,685.77 408.20,687.30 408.77,687.30 408.77,689.02 409.35,689.02 409.35,690.75 409.93,690.75 409.93,692.48 410.50,692.48 410.50,694.20 411.47,694.20 411.47,695.93 412.43,695.93 412.43,697.67 413.40,697.67 413.40,699.40 414.85,699.40 414.85,701.10 416.30,701.10 416.30,702.80 417.45,702.80 417.45,704.85 418.60,704.85 418.60,706.90 420.05,706.90 420.05,707.75 421.50,707.75 421.50,708.60 423.25,708.60 423.25,709.75 425.00,709.75 425.00,710.90 426.70,710.90 426.70,712.65 428.40,712.65 428.40,714.40 430.15,714.40 430.15,716.10 431.90,716.10 431.90,717.80 433.60,717.80 433.60,719.55 435.30,719.55 435.30,721.30 436.75,721.30 436.75,722.75 438.20,722.75 438.20,724.20 440.50,724.20 440.50,726.50 442.07,726.50 442.07,727.07 443.63,727.07 443.63,727.63 445.20,727.63 445.20,728.20 446.73,728.20 446.73,728.60 448.27,728.60 448.27,729.00 449.80,729.00 449.80,729.40 451.53,729.40 451.53,729.67 453.27,729.67 453.27,729.93 455.00,729.93 455.00,730.20 456.53,730.20 456.53,730.63 458.07,730.63 458.07,731.07 459.60,731.07 459.60,731.50 461.65,731.50 461.65,732.95 463.70,732.95 463.70,734.40 465.70,734.40 465.70,734.60 467.70,734.60 467.70,734.80 469.45,734.80 469.45,735.60 471.20,735.60 471.20,736.40 473.10,736.40 473.10,736.90 475.00,736.90 475.00,737.40 476.90,737.40 476.90,737.90 485.00,737.90 486.70,737.90 486.70,739.20 496.50,739.20 498.80,739.20 498.80,739.80 500.37,739.80 500.37,740.03 501.93,740.03 501.93,740.27 503.50,740.27 503.50,740.50 505.03,740.50 505.03,740.67 506.57,740.67 506.57,740.83 508.10,740.83 508.10,741.00 509.55,741.00 509.55,741.45 511.00,741.45 511.00,741.90" fill="none" stroke="#1f2b4d" stroke-width="1.7" stroke-linejoin="miter" stroke-linecap="square"/>
<line x1="511.00" y1="740.60" x2="511.00" y2="743.20" stroke="#1f2b4d" stroke-width="1.0"/>
<polyline points="402.50,677.50 403.00,677.50 403.07,677.50 403.07,679.42 403.13,679.42 403.13,681.33 403.20,681.33 403.20,683.25 403.27,683.25 403.27,685.17 403.33,685.17 403.33,687.08 403.40,687.08 403.40,689.00 404.50,689.00 404.50,695.90 407.10,695.90 407.30,702.30 411.10,702.30 411.16,702.30 411.16,704.11 411.21,704.11 411.21,705.93 411.27,705.93 411.27,707.74 411.33,707.74 411.33,709.56 411.39,709.56 411.39,711.37 411.44,711.37 411.44,713.19 411.50,713.19 411.50,715.00 415.70,715.00 415.83,715.00 415.83,716.90 415.97,716.90 415.97,718.80 416.10,718.80 416.10,720.70 422.70,720.70 422.70,727.30 511.50,727.30" fill="none" stroke="#7e0d2c" stroke-width="1.7" stroke-linejoin="miter" stroke-linecap="square"/>
<line x1="511.50" y1="726.00" x2="511.50" y2="728.60" stroke="#7e0d2c" stroke-width="1.0"/>
<line x1="495.50" y1="726.00" x2="495.50" y2="728.60" stroke="#7e0d2c" stroke-width="1.0"/>
<line x1="479.50" y1="726.00" x2="479.50" y2="728.60" stroke="#7e0d2c" stroke-width="1.0"/>
<line x1="463.50" y1="726.00" x2="463.50" y2="728.60" stroke="#7e0d2c" stroke-width="1.0"/>
<line x1="447.50" y1="726.00" x2="447.50" y2="728.60" stroke="#7e0d2c" stroke-width="1.0"/>
<line x1="431.50" y1="726.00" x2="431.50" y2="728.60" stroke="#7e0d2c" stroke-width="1.0"/>
<text x="432.00" y="704.00" font-size="6.8" font-family="Liberation Serif, serif" fill="#2a2a2a" stroke="#2a2a2a" stroke-width="0.12" textLength="35.3" lengthAdjust="spacingAndGlyphs">18.1 months</text>
<text x="411.40" y="742.10" font-size="6.8" font-family="Liberation Serif, serif" fill="#2a2a2a" stroke="#2a2a2a" stroke-width="0.12" textLength="32" lengthAdjust="spacingAndGlyphs">7.6 months</text>
<text x="397.00" y="782.20" font-size="7.2" font-family="Liberation Sans, sans-serif" fill="#111" stroke="#111" stroke-width="0.2" textLength="51" lengthAdjust="spacingAndGlyphs">Number at risk</text>
<text transform="translate(360.10,792.10) rotate(-90)" font-size="9.9" font-family="Liberation Sans, sans-serif" fill="#111" stroke="#111" stroke-width="0.2" text-anchor="middle" textLength="20" lengthAdjust="spacingAndGlyphs">Strata</text>
<text x="389.60" y="789.50" font-size="6.8" font-family="Liberation Sans, sans-serif" fill="#3d5a88" stroke="#3d5a88" stroke-width="0.2" text-anchor="end" textLength="22.8" lengthAdjust="spacingAndGlyphs">Mut=0</text>
<text x="389.60" y="795.90" font-size="6.8" font-family="Liberation Sans, sans-serif" fill="#8a2848" stroke="#8a2848" stroke-width="0.2" text-anchor="end" textLength="22.8" lengthAdjust="spacingAndGlyphs">Mut=1</text>
<line x1="393.00" y1="788.10" x2="397.00" y2="788.10" stroke="#000" stroke-width="1.1"/>
<line x1="393.00" y1="794.10" x2="397.00" y2="794.10" stroke="#000" stroke-width="1.1"/>
<line x1="397.00" y1="784.30" x2="397.00" y2="798.90" stroke="#000" stroke-width="1.5"/>
<line x1="396.30" y1="798.20" x2="511.60" y2="798.20" stroke="#000" stroke-width="1.5"/>
<line x1="401.60" y1="798.20" x2="401.60" y2="801.70" stroke="#000" stroke-width="1.1"/>
<text x="401.60" y="810.80" font-size="7.4" font-family="Liberation Sans, sans-serif" fill="#111" stroke="#111" stroke-width="0.2" text-anchor="middle">0</text>
<text x="403.20" y="789.20" font-size="7.2" font-family="Liberation Sans, sans-serif" fill="#111" stroke="#111" stroke-width="0.2" text-anchor="middle">175</text>
<text x="403.20" y="795.60" font-size="7.2" font-family="Liberation Sans, sans-serif" fill="#111" stroke="#111" stroke-width="0.2" text-anchor="middle">11</text>
<line x1="427.75" y1="798.20" x2="427.75" y2="801.70" stroke="#000" stroke-width="1.1"/>
<text x="427.75" y="810.80" font-size="7.4" font-family="Liberation Sans, sans-serif" fill="#111" stroke="#111" stroke-width="0.2" text-anchor="middle">20</text>
<text x="427.75" y="789.20" font-size="7.2" font-family="Liberation Sans, sans-serif" fill="#111" stroke="#111" stroke-width="0.2" text-anchor="middle">77</text>
<text x="427.75" y="795.60" font-size="7.2" font-family="Liberation Sans, sans-serif" fill="#111" stroke="#111" stroke-width="0.2" text-anchor="middle">3</text>
<line x1="453.90" y1="798.20" x2="453.90" y2="801.70" stroke="#000" stroke-width="1.1"/>
<text x="453.90" y="810.80" font-size="7.4" font-family="Liberation Sans, sans-serif" fill="#111" stroke="#111" stroke-width="0.2" text-anchor="middle">40</text>
<text x="453.90" y="789.20" font-size="7.2" font-family="Liberation Sans, sans-serif" fill="#111" stroke="#111" stroke-width="0.2" text-anchor="middle">30</text>
<text x="453.90" y="795.60" font-size="7.2" font-family="Liberation Sans, sans-serif" fill="#111" stroke="#111" stroke-width="0.2" text-anchor="middle">1</text>
<line x1="480.05" y1="798.20" x2="480.05" y2="801.70" stroke="#000" stroke-width="1.1"/>
<text x="480.05" y="810.80" font-size="7.4" font-family="Liberation Sans, sans-serif" fill="#111" stroke="#111" stroke-width="0.2" text-anchor="middle">60</text>
<text x="480.05" y="789.20" font-size="7.2" font-family="Liberation Sans, sans-serif" fill="#111" stroke="#111" stroke-width="0.2" text-anchor="middle">13</text>
<text x="480.05" y="795.60" font-size="7.2" font-family="Liberation Sans, sans-serif" fill="#111" stroke="#111" stroke-width="0.2" text-anchor="middle">1</text>
<line x1="506.20" y1="798.20" x2="506.20" y2="801.70" stroke="#000" stroke-width="1.1"/>
<text x="506.20" y="810.80" font-size="7.4" font-family="Liberation Sans, sans-serif" fill="#111" stroke="#111" stroke-width="0.2" text-anchor="middle">80</text>
<text x="506.20" y="789.20" font-size="7.2" font-family="Liberation Sans, sans-serif" fill="#111" stroke="#111" stroke-width="0.2" text-anchor="middle">5</text>
<text x="506.20" y="795.60" font-size="7.2" font-family="Liberation Sans, sans-serif" fill="#111" stroke="#111" stroke-width="0.2" text-anchor="middle">1</text>
<text x="453.60" y="824.20" font-size="9.0" font-family="Liberation Sans, sans-serif" fill="#000" stroke="#000" stroke-width="0.12" text-anchor="middle" font-weight="bold" textLength="40" lengthAdjust="spacingAndGlyphs">p=0.671</text>
<text x="8.60" y="19.70" font-size="13.5" font-family="Liberation Sans, sans-serif" fill="#000" stroke="#000" stroke-width="0.2" font-weight="bold">A</text>
<text x="9.20" y="452.00" font-size="13.5" font-family="Liberation Sans, sans-serif" fill="#000" stroke="#000" stroke-width="0.2" font-weight="bold">B</text>
<rect x="127.8" y="419.6" width="7.8" height="7.6" fill="#2c4f8f" stroke="#1d2f5c" stroke-width="0.8"/>
<rect x="280.3" y="419.8" width="7.6" height="7.4" fill="#b3002c" stroke="#7c0020" stroke-width="0.8"/>
<text x="139.2" y="421.3" font-size="6.7" font-family="Liberation Sans, sans-serif" fill="#1a1a1a" stroke="#1a1a1a" stroke-width="0.2" textLength="122.8" lengthAdjust="spacingAndGlyphs">Survival curve of patients <tspan font-weight="bold">without</tspan> the FISH</text>
<text x="139.2" y="428.2" font-size="6.7" font-family="Liberation Sans, sans-serif" fill="#1a1a1a" stroke="#1a1a1a" stroke-width="0.2" textLength="73.1" lengthAdjust="spacingAndGlyphs">abnormality or mutation</text>
<text x="291.5" y="421.3" font-size="6.7" font-family="Liberation Sans, sans-serif" fill="#1a1a1a" stroke="#1a1a1a" stroke-width="0.2" textLength="149.3" lengthAdjust="spacingAndGlyphs">Survival curve of patients <tspan font-weight="bold">with</tspan> the FISH abnormality</text>
<text x="291.5" y="428.2" font-size="6.7" font-family="Liberation Sans, sans-serif" fill="#1a1a1a" stroke="#1a1a1a" stroke-width="0.2" textLength="34" lengthAdjust="spacingAndGlyphs">or mutation</text>
<rect x="0" y="0" width="520" height="1.6" fill="#000"/>
<rect x="0" y="0" width="1.7" height="835" fill="#000"/>
<rect x="518.2" y="0" width="1.8" height="835" fill="#000"/>
<rect x="0" y="833" width="520" height="2" fill="#000"/>
</g></svg></div></body></html>
